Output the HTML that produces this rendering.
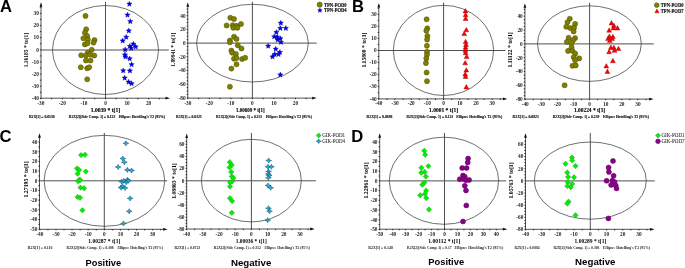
<!DOCTYPE html>
<html><head><meta charset="utf-8"><style>
html,body{margin:0;padding:0;background:#fff;}
body{width:685px;height:268px;overflow:hidden;font-family:"Liberation Sans", sans-serif;}
svg{display:block;will-change:transform;}
</style></head><body>
<svg width="685" height="268" viewBox="0 0 685 268">
<rect width="685" height="268" fill="#fff"/>
<line x1="41" y1="50" x2="168.8" y2="50" stroke="#505050" stroke-width="1"/>
<line x1="105.5" y1="2" x2="105.5" y2="98.2" stroke="#505050" stroke-width="1"/>
<ellipse cx="105.5" cy="50" rx="53" ry="44.5" fill="none" stroke="#404040" stroke-width="0.75"/>
<line x1="41" y1="98.2" x2="167" y2="98.2" stroke="#505050" stroke-width="1"/>
<line x1="41" y1="98.2" x2="41" y2="5.3" stroke="#505050" stroke-width="1"/>
<polygon points="170,98.2 165.5,96.8 165.5,99.6" fill="#111"/>
<polygon points="41,2.3 39.6,6.8 42.4,6.8" fill="#111"/>
<text x="40.85" y="104.6" font-size="5.3" font-family='"Liberation Serif", serif' font-weight="bold" fill="#1a1a1a" text-anchor="middle" >-30</text>
<text x="62.4" y="104.6" font-size="5.3" font-family='"Liberation Serif", serif' font-weight="bold" fill="#1a1a1a" text-anchor="middle" >-20</text>
<text x="83.95" y="104.6" font-size="5.3" font-family='"Liberation Serif", serif' font-weight="bold" fill="#1a1a1a" text-anchor="middle" >-10</text>
<text x="105.5" y="104.6" font-size="5.3" font-family='"Liberation Serif", serif' font-weight="bold" fill="#1a1a1a" text-anchor="middle" >0</text>
<text x="127.05" y="104.6" font-size="5.3" font-family='"Liberation Serif", serif' font-weight="bold" fill="#1a1a1a" text-anchor="middle" >10</text>
<text x="148.6" y="104.6" font-size="5.3" font-family='"Liberation Serif", serif' font-weight="bold" fill="#1a1a1a" text-anchor="middle" >20</text>
<line x1="40.85" y1="98" x2="40.85" y2="99.3" stroke="#1a1a1a" stroke-width="0.9"/>
<line x1="51.63" y1="98" x2="51.63" y2="99.3" stroke="#1a1a1a" stroke-width="0.9"/>
<line x1="62.4" y1="98" x2="62.4" y2="99.3" stroke="#1a1a1a" stroke-width="0.9"/>
<line x1="73.18" y1="98" x2="73.18" y2="99.3" stroke="#1a1a1a" stroke-width="0.9"/>
<line x1="83.95" y1="98" x2="83.95" y2="99.3" stroke="#1a1a1a" stroke-width="0.9"/>
<line x1="94.72" y1="98" x2="94.72" y2="99.3" stroke="#1a1a1a" stroke-width="0.9"/>
<line x1="105.5" y1="98" x2="105.5" y2="99.3" stroke="#1a1a1a" stroke-width="0.9"/>
<line x1="116.28" y1="98" x2="116.28" y2="99.3" stroke="#1a1a1a" stroke-width="0.9"/>
<line x1="127.05" y1="98" x2="127.05" y2="99.3" stroke="#1a1a1a" stroke-width="0.9"/>
<line x1="137.82" y1="98" x2="137.82" y2="99.3" stroke="#1a1a1a" stroke-width="0.9"/>
<line x1="148.6" y1="98" x2="148.6" y2="99.3" stroke="#1a1a1a" stroke-width="0.9"/>
<line x1="159.38" y1="98" x2="159.38" y2="99.3" stroke="#1a1a1a" stroke-width="0.9"/>
<text x="38.8" y="100.16" font-size="5.3" font-family='"Liberation Serif", serif' font-weight="bold" fill="#1a1a1a" text-anchor="end" >-40</text>
<text x="38.8" y="88.02" font-size="5.3" font-family='"Liberation Serif", serif' font-weight="bold" fill="#1a1a1a" text-anchor="end" >-30</text>
<text x="38.8" y="75.88" font-size="5.3" font-family='"Liberation Serif", serif' font-weight="bold" fill="#1a1a1a" text-anchor="end" >-20</text>
<text x="38.8" y="63.74" font-size="5.3" font-family='"Liberation Serif", serif' font-weight="bold" fill="#1a1a1a" text-anchor="end" >-10</text>
<text x="38.8" y="51.6" font-size="5.3" font-family='"Liberation Serif", serif' font-weight="bold" fill="#1a1a1a" text-anchor="end" >0</text>
<text x="38.8" y="39.46" font-size="5.3" font-family='"Liberation Serif", serif' font-weight="bold" fill="#1a1a1a" text-anchor="end" >10</text>
<text x="38.8" y="27.32" font-size="5.3" font-family='"Liberation Serif", serif' font-weight="bold" fill="#1a1a1a" text-anchor="end" >20</text>
<text x="38.8" y="15.18" font-size="5.3" font-family='"Liberation Serif", serif' font-weight="bold" fill="#1a1a1a" text-anchor="end" >30</text>
<line x1="39.9" y1="98.36" x2="41.2" y2="98.36" stroke="#1a1a1a" stroke-width="0.9"/>
<line x1="39.9" y1="92.29" x2="41.2" y2="92.29" stroke="#1a1a1a" stroke-width="0.9"/>
<line x1="39.9" y1="86.22" x2="41.2" y2="86.22" stroke="#1a1a1a" stroke-width="0.9"/>
<line x1="39.9" y1="80.15" x2="41.2" y2="80.15" stroke="#1a1a1a" stroke-width="0.9"/>
<line x1="39.9" y1="74.08" x2="41.2" y2="74.08" stroke="#1a1a1a" stroke-width="0.9"/>
<line x1="39.9" y1="68.01" x2="41.2" y2="68.01" stroke="#1a1a1a" stroke-width="0.9"/>
<line x1="39.9" y1="61.94" x2="41.2" y2="61.94" stroke="#1a1a1a" stroke-width="0.9"/>
<line x1="39.9" y1="55.87" x2="41.2" y2="55.87" stroke="#1a1a1a" stroke-width="0.9"/>
<line x1="39.9" y1="49.8" x2="41.2" y2="49.8" stroke="#1a1a1a" stroke-width="0.9"/>
<line x1="39.9" y1="43.73" x2="41.2" y2="43.73" stroke="#1a1a1a" stroke-width="0.9"/>
<line x1="39.9" y1="37.66" x2="41.2" y2="37.66" stroke="#1a1a1a" stroke-width="0.9"/>
<line x1="39.9" y1="31.59" x2="41.2" y2="31.59" stroke="#1a1a1a" stroke-width="0.9"/>
<line x1="39.9" y1="25.52" x2="41.2" y2="25.52" stroke="#1a1a1a" stroke-width="0.9"/>
<line x1="39.9" y1="19.45" x2="41.2" y2="19.45" stroke="#1a1a1a" stroke-width="0.9"/>
<line x1="39.9" y1="13.38" x2="41.2" y2="13.38" stroke="#1a1a1a" stroke-width="0.9"/>
<line x1="39.9" y1="7.31" x2="41.2" y2="7.31" stroke="#1a1a1a" stroke-width="0.9"/>
<text x="90.7" y="111.8" font-size="5.6" font-family='"Liberation Serif", serif' font-weight="bold" fill="#000" text-anchor="start" textLength="29.5" lengthAdjust="spacingAndGlyphs" stroke="#000" stroke-width="0.12">1.0039 * t[1]</text>
<text x="0" y="0" font-size="5.6" font-family='"Liberation Serif", serif' font-weight="bold" text-anchor="middle" textLength="34.4" lengthAdjust="spacingAndGlyphs" transform="translate(28.4 50.1) rotate(-90)">1.16185 * to[1]</text>
<text x="28.9" y="117.7" font-size="4.5" font-family='"Liberation Serif", serif' font-weight="bold" fill="#111" text-anchor="start" textLength="25.7" lengthAdjust="spacingAndGlyphs" stroke="#111" stroke-width="0.15">R2X[1] = 0.0530</text>
<text x="68.8" y="117.7" font-size="4.5" font-family='"Liberation Serif", serif' font-weight="bold" fill="#111" text-anchor="start" textLength="46.4" lengthAdjust="spacingAndGlyphs" stroke="#111" stroke-width="0.15">R2X[2](Side Comp. 1) = 0.123</text>
<text x="118.7" y="117.7" font-size="4.5" font-family='"Liberation Serif", serif' font-weight="bold" fill="#111" text-anchor="start" textLength="46.4" lengthAdjust="spacingAndGlyphs" stroke="#111" stroke-width="0.15">Ellipse: Hotelling's T2 (95%)</text>
<circle cx="85.5" cy="15.9" r="2.55" fill="#808000" stroke="#4d4d00" stroke-width="0.5"/>
<circle cx="86.2" cy="29.3" r="2.55" fill="#808000" stroke="#4d4d00" stroke-width="0.5"/>
<circle cx="84.9" cy="32.7" r="2.55" fill="#808000" stroke="#4d4d00" stroke-width="0.5"/>
<circle cx="87.2" cy="36" r="2.55" fill="#808000" stroke="#4d4d00" stroke-width="0.5"/>
<circle cx="83.4" cy="38.3" r="2.55" fill="#808000" stroke="#4d4d00" stroke-width="0.5"/>
<circle cx="87.9" cy="39.6" r="2.55" fill="#808000" stroke="#4d4d00" stroke-width="0.5"/>
<circle cx="94.5" cy="40.1" r="2.55" fill="#808000" stroke="#4d4d00" stroke-width="0.5"/>
<circle cx="93.5" cy="42.6" r="2.55" fill="#808000" stroke="#4d4d00" stroke-width="0.5"/>
<circle cx="84.9" cy="44.4" r="2.55" fill="#808000" stroke="#4d4d00" stroke-width="0.5"/>
<circle cx="87.5" cy="43.3" r="2.55" fill="#808000" stroke="#4d4d00" stroke-width="0.5"/>
<circle cx="91.7" cy="49.7" r="2.55" fill="#808000" stroke="#4d4d00" stroke-width="0.5"/>
<circle cx="87.7" cy="52.7" r="2.55" fill="#808000" stroke="#4d4d00" stroke-width="0.5"/>
<circle cx="81.2" cy="55.2" r="2.55" fill="#808000" stroke="#4d4d00" stroke-width="0.5"/>
<circle cx="85.9" cy="55.5" r="2.55" fill="#808000" stroke="#4d4d00" stroke-width="0.5"/>
<circle cx="90.2" cy="54.6" r="2.55" fill="#808000" stroke="#4d4d00" stroke-width="0.5"/>
<circle cx="94.3" cy="55.5" r="2.55" fill="#808000" stroke="#4d4d00" stroke-width="0.5"/>
<circle cx="85.9" cy="60.5" r="2.55" fill="#808000" stroke="#4d4d00" stroke-width="0.5"/>
<circle cx="90.5" cy="60.5" r="2.55" fill="#808000" stroke="#4d4d00" stroke-width="0.5"/>
<circle cx="80.8" cy="67.3" r="2.55" fill="#808000" stroke="#4d4d00" stroke-width="0.5"/>
<circle cx="87.2" cy="68.3" r="2.55" fill="#808000" stroke="#4d4d00" stroke-width="0.5"/>
<circle cx="89.2" cy="67.3" r="2.55" fill="#808000" stroke="#4d4d00" stroke-width="0.5"/>
<circle cx="87.2" cy="79.3" r="2.55" fill="#808000" stroke="#4d4d00" stroke-width="0.5"/>
<polygon points="129.4,1.3 130.13,3.04 132.02,3.2 130.59,4.44 131.02,6.27 129.4,5.3 127.78,6.27 128.21,4.44 126.78,3.2 128.67,3.04" fill="#0000ff" stroke="#00007a" stroke-width="0.4"/>
<polygon points="127.5,12.2 128.23,13.94 130.12,14.1 128.69,15.34 129.12,17.17 127.5,16.2 125.88,17.17 126.31,15.34 124.88,14.1 126.77,13.94" fill="#0000ff" stroke="#00007a" stroke-width="0.4"/>
<polygon points="130.3,18.7 131.03,20.44 132.92,20.6 131.49,21.84 131.92,23.67 130.3,22.7 128.68,23.67 129.11,21.84 127.68,20.6 129.57,20.44" fill="#0000ff" stroke="#00007a" stroke-width="0.4"/>
<polygon points="128.8,28.1 129.53,29.84 131.42,30 129.99,31.24 130.42,33.07 128.8,32.1 127.18,33.07 127.61,31.24 126.18,30 128.07,29.84" fill="#0000ff" stroke="#00007a" stroke-width="0.4"/>
<polygon points="126.2,34.4 126.93,36.14 128.82,36.3 127.39,37.54 127.82,39.37 126.2,38.4 124.58,39.37 125.01,37.54 123.58,36.3 125.47,36.14" fill="#0000ff" stroke="#00007a" stroke-width="0.4"/>
<polygon points="122.7,38.1 123.43,39.84 125.32,40 123.89,41.24 124.32,43.07 122.7,42.1 121.08,43.07 121.51,41.24 120.08,40 121.97,39.84" fill="#0000ff" stroke="#00007a" stroke-width="0.4"/>
<polygon points="133.3,41.3 134.03,43.04 135.92,43.2 134.49,44.44 134.92,46.27 133.3,45.3 131.68,46.27 132.11,44.44 130.68,43.2 132.57,43.04" fill="#0000ff" stroke="#00007a" stroke-width="0.4"/>
<polygon points="129.8,43.5 130.53,45.24 132.42,45.4 130.99,46.64 131.42,48.47 129.8,47.5 128.18,48.47 128.61,46.64 127.18,45.4 129.07,45.24" fill="#0000ff" stroke="#00007a" stroke-width="0.4"/>
<polygon points="135.7,44.1 136.43,45.84 138.32,46 136.89,47.24 137.32,49.07 135.7,48.1 134.08,49.07 134.51,47.24 133.08,46 134.97,45.84" fill="#0000ff" stroke="#00007a" stroke-width="0.4"/>
<polygon points="131.3,45.6 132.03,47.34 133.92,47.5 132.49,48.74 132.92,50.57 131.3,49.6 129.68,50.57 130.11,48.74 128.68,47.5 130.57,47.34" fill="#0000ff" stroke="#00007a" stroke-width="0.4"/>
<polygon points="125.2,46.9 125.93,48.64 127.82,48.8 126.39,50.04 126.82,51.87 125.2,50.9 123.58,51.87 124.01,50.04 122.58,48.8 124.47,48.64" fill="#0000ff" stroke="#00007a" stroke-width="0.4"/>
<polygon points="125,52 125.73,53.74 127.62,53.9 126.19,55.14 126.62,56.97 125,56 123.38,56.97 123.81,55.14 122.38,53.9 124.27,53.74" fill="#0000ff" stroke="#00007a" stroke-width="0.4"/>
<polygon points="125.4,54.1 126.13,55.84 128.02,56 126.59,57.24 127.02,59.07 125.4,58.1 123.78,59.07 124.21,57.24 122.78,56 124.67,55.84" fill="#0000ff" stroke="#00007a" stroke-width="0.4"/>
<polygon points="129.7,55.9 130.43,57.64 132.32,57.8 130.89,59.04 131.32,60.87 129.7,59.9 128.08,60.87 128.51,59.04 127.08,57.8 128.97,57.64" fill="#0000ff" stroke="#00007a" stroke-width="0.4"/>
<polygon points="131.6,61.8 132.33,63.54 134.22,63.7 132.79,64.94 133.22,66.77 131.6,65.8 129.98,66.77 130.41,64.94 128.98,63.7 130.87,63.54" fill="#0000ff" stroke="#00007a" stroke-width="0.4"/>
<polygon points="123.2,67.9 123.93,69.64 125.82,69.8 124.39,71.04 124.82,72.87 123.2,71.9 121.58,72.87 122.01,71.04 120.58,69.8 122.47,69.64" fill="#0000ff" stroke="#00007a" stroke-width="0.4"/>
<polygon points="129.9,68.1 130.63,69.84 132.52,70 131.09,71.24 131.52,73.07 129.9,72.1 128.28,73.07 128.71,71.24 127.28,70 129.17,69.84" fill="#0000ff" stroke="#00007a" stroke-width="0.4"/>
<polygon points="124.7,75.2 125.43,76.94 127.32,77.1 125.89,78.34 126.32,80.17 124.7,79.2 123.08,80.17 123.51,78.34 122.08,77.1 123.97,76.94" fill="#0000ff" stroke="#00007a" stroke-width="0.4"/>
<polygon points="128.6,79.3 129.33,81.04 131.22,81.2 129.79,82.44 130.22,84.27 128.6,83.3 126.98,84.27 127.41,82.44 125.98,81.2 127.87,81.04" fill="#0000ff" stroke="#00007a" stroke-width="0.4"/>
<polygon points="131.6,80.8 132.33,82.54 134.22,82.7 132.79,83.94 133.22,85.77 131.6,84.8 129.98,85.77 130.41,83.94 128.98,82.7 130.87,82.54" fill="#0000ff" stroke="#00007a" stroke-width="0.4"/>
<line x1="187.8" y1="43.1" x2="316.7" y2="43.1" stroke="#505050" stroke-width="1"/>
<line x1="252.4" y1="1.8" x2="252.4" y2="98.1" stroke="#505050" stroke-width="1"/>
<ellipse cx="252.45" cy="43.15" rx="55.85" ry="38.85" fill="none" stroke="#404040" stroke-width="0.75"/>
<line x1="187.8" y1="98.1" x2="313.7" y2="98.1" stroke="#505050" stroke-width="1"/>
<line x1="187.8" y1="98.1" x2="187.8" y2="5.2" stroke="#505050" stroke-width="1"/>
<polygon points="316.7,98.1 312.2,96.7 312.2,99.5" fill="#111"/>
<polygon points="187.8,2.2 186.4,6.7 189.2,6.7" fill="#111"/>
<text x="187.78" y="104.7" font-size="5.3" font-family='"Liberation Serif", serif' font-weight="bold" fill="#1a1a1a" text-anchor="middle" >-30</text>
<text x="209.32" y="104.7" font-size="5.3" font-family='"Liberation Serif", serif' font-weight="bold" fill="#1a1a1a" text-anchor="middle" >-20</text>
<text x="230.86" y="104.7" font-size="5.3" font-family='"Liberation Serif", serif' font-weight="bold" fill="#1a1a1a" text-anchor="middle" >-10</text>
<text x="252.4" y="104.7" font-size="5.3" font-family='"Liberation Serif", serif' font-weight="bold" fill="#1a1a1a" text-anchor="middle" >0</text>
<text x="273.94" y="104.7" font-size="5.3" font-family='"Liberation Serif", serif' font-weight="bold" fill="#1a1a1a" text-anchor="middle" >10</text>
<text x="295.48" y="104.7" font-size="5.3" font-family='"Liberation Serif", serif' font-weight="bold" fill="#1a1a1a" text-anchor="middle" >20</text>
<line x1="187.78" y1="97.9" x2="187.78" y2="99.2" stroke="#1a1a1a" stroke-width="0.9"/>
<line x1="198.55" y1="97.9" x2="198.55" y2="99.2" stroke="#1a1a1a" stroke-width="0.9"/>
<line x1="209.32" y1="97.9" x2="209.32" y2="99.2" stroke="#1a1a1a" stroke-width="0.9"/>
<line x1="220.09" y1="97.9" x2="220.09" y2="99.2" stroke="#1a1a1a" stroke-width="0.9"/>
<line x1="230.86" y1="97.9" x2="230.86" y2="99.2" stroke="#1a1a1a" stroke-width="0.9"/>
<line x1="241.63" y1="97.9" x2="241.63" y2="99.2" stroke="#1a1a1a" stroke-width="0.9"/>
<line x1="252.4" y1="97.9" x2="252.4" y2="99.2" stroke="#1a1a1a" stroke-width="0.9"/>
<line x1="263.17" y1="97.9" x2="263.17" y2="99.2" stroke="#1a1a1a" stroke-width="0.9"/>
<line x1="273.94" y1="97.9" x2="273.94" y2="99.2" stroke="#1a1a1a" stroke-width="0.9"/>
<line x1="284.71" y1="97.9" x2="284.71" y2="99.2" stroke="#1a1a1a" stroke-width="0.9"/>
<line x1="295.48" y1="97.9" x2="295.48" y2="99.2" stroke="#1a1a1a" stroke-width="0.9"/>
<line x1="306.25" y1="97.9" x2="306.25" y2="99.2" stroke="#1a1a1a" stroke-width="0.9"/>
<text x="185.6" y="99.7" font-size="5.3" font-family='"Liberation Serif", serif' font-weight="bold" fill="#1a1a1a" text-anchor="end" >-80</text>
<text x="185.6" y="86" font-size="5.3" font-family='"Liberation Serif", serif' font-weight="bold" fill="#1a1a1a" text-anchor="end" >-60</text>
<text x="185.6" y="72.3" font-size="5.3" font-family='"Liberation Serif", serif' font-weight="bold" fill="#1a1a1a" text-anchor="end" >-40</text>
<text x="185.6" y="58.6" font-size="5.3" font-family='"Liberation Serif", serif' font-weight="bold" fill="#1a1a1a" text-anchor="end" >-20</text>
<text x="185.6" y="44.9" font-size="5.3" font-family='"Liberation Serif", serif' font-weight="bold" fill="#1a1a1a" text-anchor="end" >0</text>
<text x="185.6" y="31.2" font-size="5.3" font-family='"Liberation Serif", serif' font-weight="bold" fill="#1a1a1a" text-anchor="end" >20</text>
<text x="185.6" y="17.5" font-size="5.3" font-family='"Liberation Serif", serif' font-weight="bold" fill="#1a1a1a" text-anchor="end" >40</text>
<line x1="186.7" y1="97.9" x2="188" y2="97.9" stroke="#1a1a1a" stroke-width="0.9"/>
<line x1="186.7" y1="94.48" x2="188" y2="94.48" stroke="#1a1a1a" stroke-width="0.9"/>
<line x1="186.7" y1="91.05" x2="188" y2="91.05" stroke="#1a1a1a" stroke-width="0.9"/>
<line x1="186.7" y1="87.62" x2="188" y2="87.62" stroke="#1a1a1a" stroke-width="0.9"/>
<line x1="186.7" y1="84.2" x2="188" y2="84.2" stroke="#1a1a1a" stroke-width="0.9"/>
<line x1="186.7" y1="80.78" x2="188" y2="80.78" stroke="#1a1a1a" stroke-width="0.9"/>
<line x1="186.7" y1="77.35" x2="188" y2="77.35" stroke="#1a1a1a" stroke-width="0.9"/>
<line x1="186.7" y1="73.93" x2="188" y2="73.93" stroke="#1a1a1a" stroke-width="0.9"/>
<line x1="186.7" y1="70.5" x2="188" y2="70.5" stroke="#1a1a1a" stroke-width="0.9"/>
<line x1="186.7" y1="67.08" x2="188" y2="67.08" stroke="#1a1a1a" stroke-width="0.9"/>
<line x1="186.7" y1="63.65" x2="188" y2="63.65" stroke="#1a1a1a" stroke-width="0.9"/>
<line x1="186.7" y1="60.23" x2="188" y2="60.23" stroke="#1a1a1a" stroke-width="0.9"/>
<line x1="186.7" y1="56.8" x2="188" y2="56.8" stroke="#1a1a1a" stroke-width="0.9"/>
<line x1="186.7" y1="53.38" x2="188" y2="53.38" stroke="#1a1a1a" stroke-width="0.9"/>
<line x1="186.7" y1="49.95" x2="188" y2="49.95" stroke="#1a1a1a" stroke-width="0.9"/>
<line x1="186.7" y1="46.52" x2="188" y2="46.52" stroke="#1a1a1a" stroke-width="0.9"/>
<line x1="186.7" y1="43.1" x2="188" y2="43.1" stroke="#1a1a1a" stroke-width="0.9"/>
<line x1="186.7" y1="39.68" x2="188" y2="39.68" stroke="#1a1a1a" stroke-width="0.9"/>
<line x1="186.7" y1="36.25" x2="188" y2="36.25" stroke="#1a1a1a" stroke-width="0.9"/>
<line x1="186.7" y1="32.83" x2="188" y2="32.83" stroke="#1a1a1a" stroke-width="0.9"/>
<line x1="186.7" y1="29.4" x2="188" y2="29.4" stroke="#1a1a1a" stroke-width="0.9"/>
<line x1="186.7" y1="25.98" x2="188" y2="25.98" stroke="#1a1a1a" stroke-width="0.9"/>
<line x1="186.7" y1="22.55" x2="188" y2="22.55" stroke="#1a1a1a" stroke-width="0.9"/>
<line x1="186.7" y1="19.12" x2="188" y2="19.12" stroke="#1a1a1a" stroke-width="0.9"/>
<line x1="186.7" y1="15.7" x2="188" y2="15.7" stroke="#1a1a1a" stroke-width="0.9"/>
<line x1="186.7" y1="12.27" x2="188" y2="12.27" stroke="#1a1a1a" stroke-width="0.9"/>
<line x1="186.7" y1="8.85" x2="188" y2="8.85" stroke="#1a1a1a" stroke-width="0.9"/>
<text x="236.1" y="111.8" font-size="5.6" font-family='"Liberation Serif", serif' font-weight="bold" fill="#000" text-anchor="start" textLength="28.5" lengthAdjust="spacingAndGlyphs" stroke="#000" stroke-width="0.12">1.00609 * t[1]</text>
<text x="0" y="0" font-size="5.6" font-family='"Liberation Serif", serif' font-weight="bold" text-anchor="middle" textLength="34" lengthAdjust="spacingAndGlyphs" transform="translate(175.4 49.7) rotate(-90)">1.89941 * to[1]</text>
<text x="176.1" y="117.5" font-size="4.5" font-family='"Liberation Serif", serif' font-weight="bold" fill="#111" text-anchor="start" textLength="25.6" lengthAdjust="spacingAndGlyphs" stroke="#111" stroke-width="0.15">R2X[1] = 0.0325</text>
<text x="216" y="117.5" font-size="4.5" font-family='"Liberation Serif", serif' font-weight="bold" fill="#111" text-anchor="start" textLength="46" lengthAdjust="spacingAndGlyphs" stroke="#111" stroke-width="0.15">R2X[2](Side Comp. 1) = 0.253</text>
<text x="265.9" y="117.5" font-size="4.5" font-family='"Liberation Serif", serif' font-weight="bold" fill="#111" text-anchor="start" textLength="46" lengthAdjust="spacingAndGlyphs" stroke="#111" stroke-width="0.15">Ellipse: Hotelling's T2 (95%)</text>
<circle cx="230.3" cy="17.7" r="2.55" fill="#808000" stroke="#4d4d00" stroke-width="0.5"/>
<circle cx="234" cy="19" r="2.55" fill="#808000" stroke="#4d4d00" stroke-width="0.5"/>
<circle cx="226.6" cy="25.5" r="2.55" fill="#808000" stroke="#4d4d00" stroke-width="0.5"/>
<circle cx="232.7" cy="25.2" r="2.55" fill="#808000" stroke="#4d4d00" stroke-width="0.5"/>
<circle cx="236.5" cy="25.9" r="2.55" fill="#808000" stroke="#4d4d00" stroke-width="0.5"/>
<circle cx="241" cy="24" r="2.55" fill="#808000" stroke="#4d4d00" stroke-width="0.5"/>
<circle cx="233.3" cy="27.8" r="2.55" fill="#808000" stroke="#4d4d00" stroke-width="0.5"/>
<circle cx="237.4" cy="27.8" r="2.55" fill="#808000" stroke="#4d4d00" stroke-width="0.5"/>
<circle cx="234" cy="36.7" r="2.55" fill="#808000" stroke="#4d4d00" stroke-width="0.5"/>
<circle cx="236.5" cy="39" r="2.55" fill="#808000" stroke="#4d4d00" stroke-width="0.5"/>
<circle cx="229.9" cy="40.5" r="2.55" fill="#808000" stroke="#4d4d00" stroke-width="0.5"/>
<circle cx="229.9" cy="42.3" r="2.55" fill="#808000" stroke="#4d4d00" stroke-width="0.5"/>
<circle cx="237.8" cy="45.3" r="2.55" fill="#808000" stroke="#4d4d00" stroke-width="0.5"/>
<circle cx="241.5" cy="48.5" r="2.55" fill="#808000" stroke="#4d4d00" stroke-width="0.5"/>
<circle cx="231.4" cy="50.6" r="2.55" fill="#808000" stroke="#4d4d00" stroke-width="0.5"/>
<circle cx="232.2" cy="52.7" r="2.55" fill="#808000" stroke="#4d4d00" stroke-width="0.5"/>
<circle cx="235.9" cy="54" r="2.55" fill="#808000" stroke="#4d4d00" stroke-width="0.5"/>
<circle cx="234" cy="58.7" r="2.55" fill="#808000" stroke="#4d4d00" stroke-width="0.5"/>
<circle cx="236.5" cy="58.1" r="2.55" fill="#808000" stroke="#4d4d00" stroke-width="0.5"/>
<circle cx="242.1" cy="59" r="2.55" fill="#808000" stroke="#4d4d00" stroke-width="0.5"/>
<circle cx="245.2" cy="57.7" r="2.55" fill="#808000" stroke="#4d4d00" stroke-width="0.5"/>
<circle cx="236.5" cy="64.3" r="2.55" fill="#808000" stroke="#4d4d00" stroke-width="0.5"/>
<circle cx="231.4" cy="68.6" r="2.55" fill="#808000" stroke="#4d4d00" stroke-width="0.5"/>
<circle cx="229.9" cy="86.7" r="2.55" fill="#808000" stroke="#4d4d00" stroke-width="0.5"/>
<polygon points="280.8,20.3 281.53,22.04 283.42,22.2 281.99,23.44 282.42,25.27 280.8,24.3 279.18,25.27 279.61,23.44 278.18,22.2 280.07,22.04" fill="#0000ff" stroke="#00007a" stroke-width="0.4"/>
<polygon points="280.3,25.6 281.03,27.34 282.92,27.5 281.49,28.74 281.92,30.57 280.3,29.6 278.68,30.57 279.11,28.74 277.68,27.5 279.57,27.34" fill="#0000ff" stroke="#00007a" stroke-width="0.4"/>
<polygon points="285.8,25.6 286.53,27.34 288.42,27.5 286.99,28.74 287.42,30.57 285.8,29.6 284.18,30.57 284.61,28.74 283.18,27.5 285.07,27.34" fill="#0000ff" stroke="#00007a" stroke-width="0.4"/>
<polygon points="276.4,29.6 277.13,31.34 279.02,31.5 277.59,32.74 278.02,34.57 276.4,33.6 274.78,34.57 275.21,32.74 273.78,31.5 275.67,31.34" fill="#0000ff" stroke="#00007a" stroke-width="0.4"/>
<polygon points="274.2,33.9 274.93,35.64 276.82,35.8 275.39,37.04 275.82,38.87 274.2,37.9 272.58,38.87 273.01,37.04 271.58,35.8 273.47,35.64" fill="#0000ff" stroke="#00007a" stroke-width="0.4"/>
<polygon points="277.2,34.2 277.93,35.94 279.82,36.1 278.39,37.34 278.82,39.17 277.2,38.2 275.58,39.17 276.01,37.34 274.58,36.1 276.47,35.94" fill="#0000ff" stroke="#00007a" stroke-width="0.4"/>
<polygon points="280.4,35.8 281.13,37.54 283.02,37.7 281.59,38.94 282.02,40.77 280.4,39.8 278.78,40.77 279.21,38.94 277.78,37.7 279.67,37.54" fill="#0000ff" stroke="#00007a" stroke-width="0.4"/>
<polygon points="277.6,37 278.33,38.74 280.22,38.9 278.79,40.14 279.22,41.97 277.6,41 275.98,41.97 276.41,40.14 274.98,38.9 276.87,38.74" fill="#0000ff" stroke="#00007a" stroke-width="0.4"/>
<polygon points="281,39.5 281.73,41.24 283.62,41.4 282.19,42.64 282.62,44.47 281,43.5 279.38,44.47 279.81,42.64 278.38,41.4 280.27,41.24" fill="#0000ff" stroke="#00007a" stroke-width="0.4"/>
<polygon points="268.2,43.3 268.93,45.04 270.82,45.2 269.39,46.44 269.82,48.27 268.2,47.3 266.58,48.27 267.01,46.44 265.58,45.2 267.47,45.04" fill="#0000ff" stroke="#00007a" stroke-width="0.4"/>
<polygon points="275.7,46.3 276.43,48.04 278.32,48.2 276.89,49.44 277.32,51.27 275.7,50.3 274.08,51.27 274.51,49.44 273.08,48.2 274.97,48.04" fill="#0000ff" stroke="#00007a" stroke-width="0.4"/>
<polygon points="279.9,49.6 280.63,51.34 282.52,51.5 281.09,52.74 281.52,54.57 279.9,53.6 278.28,54.57 278.71,52.74 277.28,51.5 279.17,51.34" fill="#0000ff" stroke="#00007a" stroke-width="0.4"/>
<polygon points="274.7,51.6 275.43,53.34 277.32,53.5 275.89,54.74 276.32,56.57 274.7,55.6 273.08,56.57 273.51,54.74 272.08,53.5 273.97,53.34" fill="#0000ff" stroke="#00007a" stroke-width="0.4"/>
<polygon points="278.5,51.6 279.23,53.34 281.12,53.5 279.69,54.74 280.12,56.57 278.5,55.6 276.88,56.57 277.31,54.74 275.88,53.5 277.77,53.34" fill="#0000ff" stroke="#00007a" stroke-width="0.4"/>
<polygon points="272.5,54 273.23,55.74 275.12,55.9 273.69,57.14 274.12,58.97 272.5,58 270.88,58.97 271.31,57.14 269.88,55.9 271.77,55.74" fill="#0000ff" stroke="#00007a" stroke-width="0.4"/>
<polygon points="280.3,72.1 281.03,73.84 282.92,74 281.49,75.24 281.92,77.07 280.3,76.1 278.68,77.07 279.11,75.24 277.68,74 279.57,73.84" fill="#0000ff" stroke="#00007a" stroke-width="0.4"/>
<line x1="378.8" y1="50.5" x2="505.4" y2="50.5" stroke="#505050" stroke-width="1"/>
<line x1="443.6" y1="2.6" x2="443.6" y2="98.9" stroke="#505050" stroke-width="1"/>
<ellipse cx="443.45" cy="50.4" rx="50.1" ry="45.1" fill="none" stroke="#404040" stroke-width="0.75"/>
<line x1="378.8" y1="98.9" x2="504.4" y2="98.9" stroke="#505050" stroke-width="1"/>
<line x1="378.8" y1="98.9" x2="378.8" y2="6" stroke="#505050" stroke-width="1"/>
<polygon points="507.4,98.9 502.9,97.5 502.9,100.3" fill="#111"/>
<polygon points="378.8,3 377.4,7.5 380.2,7.5" fill="#111"/>
<text x="378.8" y="105.3" font-size="5.3" font-family='"Liberation Serif", serif' font-weight="bold" fill="#1a1a1a" text-anchor="middle" >-40</text>
<text x="395" y="105.3" font-size="5.3" font-family='"Liberation Serif", serif' font-weight="bold" fill="#1a1a1a" text-anchor="middle" >-30</text>
<text x="411.2" y="105.3" font-size="5.3" font-family='"Liberation Serif", serif' font-weight="bold" fill="#1a1a1a" text-anchor="middle" >-20</text>
<text x="427.4" y="105.3" font-size="5.3" font-family='"Liberation Serif", serif' font-weight="bold" fill="#1a1a1a" text-anchor="middle" >-10</text>
<text x="443.6" y="105.3" font-size="5.3" font-family='"Liberation Serif", serif' font-weight="bold" fill="#1a1a1a" text-anchor="middle" >0</text>
<text x="459.8" y="105.3" font-size="5.3" font-family='"Liberation Serif", serif' font-weight="bold" fill="#1a1a1a" text-anchor="middle" >10</text>
<text x="476" y="105.3" font-size="5.3" font-family='"Liberation Serif", serif' font-weight="bold" fill="#1a1a1a" text-anchor="middle" >20</text>
<text x="492.2" y="105.3" font-size="5.3" font-family='"Liberation Serif", serif' font-weight="bold" fill="#1a1a1a" text-anchor="middle" >30</text>
<line x1="378.8" y1="98.7" x2="378.8" y2="100" stroke="#1a1a1a" stroke-width="0.9"/>
<line x1="386.9" y1="98.7" x2="386.9" y2="100" stroke="#1a1a1a" stroke-width="0.9"/>
<line x1="395" y1="98.7" x2="395" y2="100" stroke="#1a1a1a" stroke-width="0.9"/>
<line x1="403.1" y1="98.7" x2="403.1" y2="100" stroke="#1a1a1a" stroke-width="0.9"/>
<line x1="411.2" y1="98.7" x2="411.2" y2="100" stroke="#1a1a1a" stroke-width="0.9"/>
<line x1="419.3" y1="98.7" x2="419.3" y2="100" stroke="#1a1a1a" stroke-width="0.9"/>
<line x1="427.4" y1="98.7" x2="427.4" y2="100" stroke="#1a1a1a" stroke-width="0.9"/>
<line x1="435.5" y1="98.7" x2="435.5" y2="100" stroke="#1a1a1a" stroke-width="0.9"/>
<line x1="443.6" y1="98.7" x2="443.6" y2="100" stroke="#1a1a1a" stroke-width="0.9"/>
<line x1="451.7" y1="98.7" x2="451.7" y2="100" stroke="#1a1a1a" stroke-width="0.9"/>
<line x1="459.8" y1="98.7" x2="459.8" y2="100" stroke="#1a1a1a" stroke-width="0.9"/>
<line x1="467.9" y1="98.7" x2="467.9" y2="100" stroke="#1a1a1a" stroke-width="0.9"/>
<line x1="476" y1="98.7" x2="476" y2="100" stroke="#1a1a1a" stroke-width="0.9"/>
<line x1="484.1" y1="98.7" x2="484.1" y2="100" stroke="#1a1a1a" stroke-width="0.9"/>
<line x1="492.2" y1="98.7" x2="492.2" y2="100" stroke="#1a1a1a" stroke-width="0.9"/>
<line x1="500.3" y1="98.7" x2="500.3" y2="100" stroke="#1a1a1a" stroke-width="0.9"/>
<text x="376.6" y="100.5" font-size="5.3" font-family='"Liberation Serif", serif' font-weight="bold" fill="#1a1a1a" text-anchor="end" >-40</text>
<text x="376.6" y="88.45" font-size="5.3" font-family='"Liberation Serif", serif' font-weight="bold" fill="#1a1a1a" text-anchor="end" >-30</text>
<text x="376.6" y="76.4" font-size="5.3" font-family='"Liberation Serif", serif' font-weight="bold" fill="#1a1a1a" text-anchor="end" >-20</text>
<text x="376.6" y="64.35" font-size="5.3" font-family='"Liberation Serif", serif' font-weight="bold" fill="#1a1a1a" text-anchor="end" >-10</text>
<text x="376.6" y="52.3" font-size="5.3" font-family='"Liberation Serif", serif' font-weight="bold" fill="#1a1a1a" text-anchor="end" >0</text>
<text x="376.6" y="40.25" font-size="5.3" font-family='"Liberation Serif", serif' font-weight="bold" fill="#1a1a1a" text-anchor="end" >10</text>
<text x="376.6" y="28.2" font-size="5.3" font-family='"Liberation Serif", serif' font-weight="bold" fill="#1a1a1a" text-anchor="end" >20</text>
<text x="376.6" y="16.15" font-size="5.3" font-family='"Liberation Serif", serif' font-weight="bold" fill="#1a1a1a" text-anchor="end" >30</text>
<line x1="377.7" y1="98.7" x2="379" y2="98.7" stroke="#1a1a1a" stroke-width="0.9"/>
<line x1="377.7" y1="92.68" x2="379" y2="92.68" stroke="#1a1a1a" stroke-width="0.9"/>
<line x1="377.7" y1="86.65" x2="379" y2="86.65" stroke="#1a1a1a" stroke-width="0.9"/>
<line x1="377.7" y1="80.62" x2="379" y2="80.62" stroke="#1a1a1a" stroke-width="0.9"/>
<line x1="377.7" y1="74.6" x2="379" y2="74.6" stroke="#1a1a1a" stroke-width="0.9"/>
<line x1="377.7" y1="68.58" x2="379" y2="68.58" stroke="#1a1a1a" stroke-width="0.9"/>
<line x1="377.7" y1="62.55" x2="379" y2="62.55" stroke="#1a1a1a" stroke-width="0.9"/>
<line x1="377.7" y1="56.52" x2="379" y2="56.52" stroke="#1a1a1a" stroke-width="0.9"/>
<line x1="377.7" y1="50.5" x2="379" y2="50.5" stroke="#1a1a1a" stroke-width="0.9"/>
<line x1="377.7" y1="44.48" x2="379" y2="44.48" stroke="#1a1a1a" stroke-width="0.9"/>
<line x1="377.7" y1="38.45" x2="379" y2="38.45" stroke="#1a1a1a" stroke-width="0.9"/>
<line x1="377.7" y1="32.42" x2="379" y2="32.42" stroke="#1a1a1a" stroke-width="0.9"/>
<line x1="377.7" y1="26.4" x2="379" y2="26.4" stroke="#1a1a1a" stroke-width="0.9"/>
<line x1="377.7" y1="20.38" x2="379" y2="20.38" stroke="#1a1a1a" stroke-width="0.9"/>
<line x1="377.7" y1="14.35" x2="379" y2="14.35" stroke="#1a1a1a" stroke-width="0.9"/>
<line x1="377.7" y1="8.32" x2="379" y2="8.32" stroke="#1a1a1a" stroke-width="0.9"/>
<text x="429" y="112.2" font-size="5.6" font-family='"Liberation Serif", serif' font-weight="bold" fill="#000" text-anchor="start" textLength="29.1" lengthAdjust="spacingAndGlyphs" stroke="#000" stroke-width="0.12">1.0001 * t[1]</text>
<text x="0" y="0" font-size="5.6" font-family='"Liberation Serif", serif' font-weight="bold" text-anchor="middle" textLength="35" lengthAdjust="spacingAndGlyphs" transform="translate(366 50.1) rotate(-90)">1.15808 * to[1]</text>
<text x="366.6" y="118" font-size="4.5" font-family='"Liberation Serif", serif' font-weight="bold" fill="#111" text-anchor="start" textLength="25.8" lengthAdjust="spacingAndGlyphs" stroke="#111" stroke-width="0.15">R2X[1] = 0.0868</text>
<text x="406.4" y="118" font-size="4.5" font-family='"Liberation Serif", serif' font-weight="bold" fill="#111" text-anchor="start" textLength="46.7" lengthAdjust="spacingAndGlyphs" stroke="#111" stroke-width="0.15">R2X[2](Side Comp. 1) = 0.123</text>
<text x="456.3" y="118" font-size="4.5" font-family='"Liberation Serif", serif' font-weight="bold" fill="#111" text-anchor="start" textLength="46" lengthAdjust="spacingAndGlyphs" stroke="#111" stroke-width="0.15">Ellipse: Hotelling's T2 (95%)</text>
<circle cx="426.6" cy="19.3" r="2.55" fill="#808000" stroke="#4d4d00" stroke-width="0.5"/>
<circle cx="427.3" cy="28.4" r="2.55" fill="#808000" stroke="#4d4d00" stroke-width="0.5"/>
<circle cx="426.3" cy="30.8" r="2.55" fill="#808000" stroke="#4d4d00" stroke-width="0.5"/>
<circle cx="427.4" cy="36.1" r="2.55" fill="#808000" stroke="#4d4d00" stroke-width="0.5"/>
<circle cx="427.1" cy="39.6" r="2.55" fill="#808000" stroke="#4d4d00" stroke-width="0.5"/>
<circle cx="426.9" cy="45.8" r="2.55" fill="#808000" stroke="#4d4d00" stroke-width="0.5"/>
<circle cx="427" cy="51.8" r="2.55" fill="#808000" stroke="#4d4d00" stroke-width="0.5"/>
<circle cx="427" cy="54.5" r="2.55" fill="#808000" stroke="#4d4d00" stroke-width="0.5"/>
<circle cx="426.3" cy="58.4" r="2.55" fill="#808000" stroke="#4d4d00" stroke-width="0.5"/>
<circle cx="425.9" cy="63.1" r="2.55" fill="#808000" stroke="#4d4d00" stroke-width="0.5"/>
<circle cx="426.6" cy="72.5" r="2.55" fill="#808000" stroke="#4d4d00" stroke-width="0.5"/>
<circle cx="427" cy="81.2" r="2.55" fill="#808000" stroke="#4d4d00" stroke-width="0.5"/>
<polygon points="465.4,8.5 467.85,12.9 462.95,12.9" fill="#ff0000" stroke="#a00000" stroke-width="0.4"/>
<polygon points="465.6,12.4 468.05,16.8 463.15,16.8" fill="#ff0000" stroke="#a00000" stroke-width="0.4"/>
<polygon points="465.6,16.1 468.05,20.5 463.15,20.5" fill="#ff0000" stroke="#a00000" stroke-width="0.4"/>
<polygon points="466.3,27.4 468.75,31.8 463.85,31.8" fill="#ff0000" stroke="#a00000" stroke-width="0.4"/>
<polygon points="464.2,31.2 466.65,35.6 461.75,35.6" fill="#ff0000" stroke="#a00000" stroke-width="0.4"/>
<polygon points="465.6,39.2 468.05,43.6 463.15,43.6" fill="#ff0000" stroke="#a00000" stroke-width="0.4"/>
<polygon points="466,42.1 468.45,46.5 463.55,46.5" fill="#ff0000" stroke="#a00000" stroke-width="0.4"/>
<polygon points="465.6,44.8 468.05,49.2 463.15,49.2" fill="#ff0000" stroke="#a00000" stroke-width="0.4"/>
<polygon points="465.4,47.9 467.85,52.3 462.95,52.3" fill="#ff0000" stroke="#a00000" stroke-width="0.4"/>
<polygon points="465.6,50.4 468.05,54.8 463.15,54.8" fill="#ff0000" stroke="#a00000" stroke-width="0.4"/>
<polygon points="466.6,54.2 469.05,58.6 464.15,58.6" fill="#ff0000" stroke="#a00000" stroke-width="0.4"/>
<polygon points="465.2,60.4 467.65,64.8 462.75,64.8" fill="#ff0000" stroke="#a00000" stroke-width="0.4"/>
<polygon points="466.3,67.7 468.75,72.1 463.85,72.1" fill="#ff0000" stroke="#a00000" stroke-width="0.4"/>
<polygon points="465.2,71.7 467.65,76.1 462.75,76.1" fill="#ff0000" stroke="#a00000" stroke-width="0.4"/>
<polygon points="465.6,74.1 468.05,78.5 463.15,78.5" fill="#ff0000" stroke="#a00000" stroke-width="0.4"/>
<polygon points="466.3,84.5 468.75,88.9 463.85,88.9" fill="#ff0000" stroke="#a00000" stroke-width="0.4"/>
<line x1="524.9" y1="43.9" x2="653.8" y2="43.9" stroke="#505050" stroke-width="1"/>
<line x1="589.6" y1="2.6" x2="589.6" y2="99.1" stroke="#505050" stroke-width="1"/>
<ellipse cx="589.4" cy="43.6" rx="51.9" ry="37.8" fill="none" stroke="#404040" stroke-width="0.75"/>
<line x1="524.9" y1="99.1" x2="650.6" y2="99.1" stroke="#505050" stroke-width="1"/>
<line x1="524.9" y1="99.1" x2="524.9" y2="6.3" stroke="#505050" stroke-width="1"/>
<polygon points="653.6,99.1 649.1,97.7 649.1,100.5" fill="#111"/>
<polygon points="524.9,3.3 523.5,7.8 526.3,7.8" fill="#111"/>
<text x="525.2" y="105.7" font-size="5.3" font-family='"Liberation Serif", serif' font-weight="bold" fill="#1a1a1a" text-anchor="middle" >-40</text>
<text x="541.3" y="105.7" font-size="5.3" font-family='"Liberation Serif", serif' font-weight="bold" fill="#1a1a1a" text-anchor="middle" >-30</text>
<text x="557.4" y="105.7" font-size="5.3" font-family='"Liberation Serif", serif' font-weight="bold" fill="#1a1a1a" text-anchor="middle" >-20</text>
<text x="573.5" y="105.7" font-size="5.3" font-family='"Liberation Serif", serif' font-weight="bold" fill="#1a1a1a" text-anchor="middle" >-10</text>
<text x="589.6" y="105.7" font-size="5.3" font-family='"Liberation Serif", serif' font-weight="bold" fill="#1a1a1a" text-anchor="middle" >0</text>
<text x="605.7" y="105.7" font-size="5.3" font-family='"Liberation Serif", serif' font-weight="bold" fill="#1a1a1a" text-anchor="middle" >10</text>
<text x="621.8" y="105.7" font-size="5.3" font-family='"Liberation Serif", serif' font-weight="bold" fill="#1a1a1a" text-anchor="middle" >20</text>
<text x="637.9" y="105.7" font-size="5.3" font-family='"Liberation Serif", serif' font-weight="bold" fill="#1a1a1a" text-anchor="middle" >30</text>
<line x1="525.2" y1="98.9" x2="525.2" y2="100.2" stroke="#1a1a1a" stroke-width="0.9"/>
<line x1="533.25" y1="98.9" x2="533.25" y2="100.2" stroke="#1a1a1a" stroke-width="0.9"/>
<line x1="541.3" y1="98.9" x2="541.3" y2="100.2" stroke="#1a1a1a" stroke-width="0.9"/>
<line x1="549.35" y1="98.9" x2="549.35" y2="100.2" stroke="#1a1a1a" stroke-width="0.9"/>
<line x1="557.4" y1="98.9" x2="557.4" y2="100.2" stroke="#1a1a1a" stroke-width="0.9"/>
<line x1="565.45" y1="98.9" x2="565.45" y2="100.2" stroke="#1a1a1a" stroke-width="0.9"/>
<line x1="573.5" y1="98.9" x2="573.5" y2="100.2" stroke="#1a1a1a" stroke-width="0.9"/>
<line x1="581.55" y1="98.9" x2="581.55" y2="100.2" stroke="#1a1a1a" stroke-width="0.9"/>
<line x1="589.6" y1="98.9" x2="589.6" y2="100.2" stroke="#1a1a1a" stroke-width="0.9"/>
<line x1="597.65" y1="98.9" x2="597.65" y2="100.2" stroke="#1a1a1a" stroke-width="0.9"/>
<line x1="605.7" y1="98.9" x2="605.7" y2="100.2" stroke="#1a1a1a" stroke-width="0.9"/>
<line x1="613.75" y1="98.9" x2="613.75" y2="100.2" stroke="#1a1a1a" stroke-width="0.9"/>
<line x1="621.8" y1="98.9" x2="621.8" y2="100.2" stroke="#1a1a1a" stroke-width="0.9"/>
<line x1="629.85" y1="98.9" x2="629.85" y2="100.2" stroke="#1a1a1a" stroke-width="0.9"/>
<line x1="637.9" y1="98.9" x2="637.9" y2="100.2" stroke="#1a1a1a" stroke-width="0.9"/>
<line x1="645.95" y1="98.9" x2="645.95" y2="100.2" stroke="#1a1a1a" stroke-width="0.9"/>
<text x="522.7" y="100.98" font-size="5.3" font-family='"Liberation Serif", serif' font-weight="bold" fill="#1a1a1a" text-anchor="end" >-80</text>
<text x="522.7" y="87.16" font-size="5.3" font-family='"Liberation Serif", serif' font-weight="bold" fill="#1a1a1a" text-anchor="end" >-60</text>
<text x="522.7" y="73.34" font-size="5.3" font-family='"Liberation Serif", serif' font-weight="bold" fill="#1a1a1a" text-anchor="end" >-40</text>
<text x="522.7" y="59.52" font-size="5.3" font-family='"Liberation Serif", serif' font-weight="bold" fill="#1a1a1a" text-anchor="end" >-20</text>
<text x="522.7" y="45.7" font-size="5.3" font-family='"Liberation Serif", serif' font-weight="bold" fill="#1a1a1a" text-anchor="end" >0</text>
<text x="522.7" y="31.88" font-size="5.3" font-family='"Liberation Serif", serif' font-weight="bold" fill="#1a1a1a" text-anchor="end" >20</text>
<text x="522.7" y="18.06" font-size="5.3" font-family='"Liberation Serif", serif' font-weight="bold" fill="#1a1a1a" text-anchor="end" >40</text>
<line x1="523.8" y1="99.18" x2="525.1" y2="99.18" stroke="#1a1a1a" stroke-width="0.9"/>
<line x1="523.8" y1="95.72" x2="525.1" y2="95.72" stroke="#1a1a1a" stroke-width="0.9"/>
<line x1="523.8" y1="92.27" x2="525.1" y2="92.27" stroke="#1a1a1a" stroke-width="0.9"/>
<line x1="523.8" y1="88.81" x2="525.1" y2="88.81" stroke="#1a1a1a" stroke-width="0.9"/>
<line x1="523.8" y1="85.36" x2="525.1" y2="85.36" stroke="#1a1a1a" stroke-width="0.9"/>
<line x1="523.8" y1="81.91" x2="525.1" y2="81.91" stroke="#1a1a1a" stroke-width="0.9"/>
<line x1="523.8" y1="78.45" x2="525.1" y2="78.45" stroke="#1a1a1a" stroke-width="0.9"/>
<line x1="523.8" y1="75" x2="525.1" y2="75" stroke="#1a1a1a" stroke-width="0.9"/>
<line x1="523.8" y1="71.54" x2="525.1" y2="71.54" stroke="#1a1a1a" stroke-width="0.9"/>
<line x1="523.8" y1="68.08" x2="525.1" y2="68.08" stroke="#1a1a1a" stroke-width="0.9"/>
<line x1="523.8" y1="64.63" x2="525.1" y2="64.63" stroke="#1a1a1a" stroke-width="0.9"/>
<line x1="523.8" y1="61.17" x2="525.1" y2="61.17" stroke="#1a1a1a" stroke-width="0.9"/>
<line x1="523.8" y1="57.72" x2="525.1" y2="57.72" stroke="#1a1a1a" stroke-width="0.9"/>
<line x1="523.8" y1="54.27" x2="525.1" y2="54.27" stroke="#1a1a1a" stroke-width="0.9"/>
<line x1="523.8" y1="50.81" x2="525.1" y2="50.81" stroke="#1a1a1a" stroke-width="0.9"/>
<line x1="523.8" y1="47.35" x2="525.1" y2="47.35" stroke="#1a1a1a" stroke-width="0.9"/>
<line x1="523.8" y1="43.9" x2="525.1" y2="43.9" stroke="#1a1a1a" stroke-width="0.9"/>
<line x1="523.8" y1="40.45" x2="525.1" y2="40.45" stroke="#1a1a1a" stroke-width="0.9"/>
<line x1="523.8" y1="36.99" x2="525.1" y2="36.99" stroke="#1a1a1a" stroke-width="0.9"/>
<line x1="523.8" y1="33.53" x2="525.1" y2="33.53" stroke="#1a1a1a" stroke-width="0.9"/>
<line x1="523.8" y1="30.08" x2="525.1" y2="30.08" stroke="#1a1a1a" stroke-width="0.9"/>
<line x1="523.8" y1="26.62" x2="525.1" y2="26.62" stroke="#1a1a1a" stroke-width="0.9"/>
<line x1="523.8" y1="23.17" x2="525.1" y2="23.17" stroke="#1a1a1a" stroke-width="0.9"/>
<line x1="523.8" y1="19.71" x2="525.1" y2="19.71" stroke="#1a1a1a" stroke-width="0.9"/>
<line x1="523.8" y1="16.26" x2="525.1" y2="16.26" stroke="#1a1a1a" stroke-width="0.9"/>
<line x1="523.8" y1="12.8" x2="525.1" y2="12.8" stroke="#1a1a1a" stroke-width="0.9"/>
<line x1="523.8" y1="9.35" x2="525.1" y2="9.35" stroke="#1a1a1a" stroke-width="0.9"/>
<text x="573.9" y="112" font-size="5.6" font-family='"Liberation Serif", serif' font-weight="bold" fill="#000" text-anchor="start" textLength="31.3" lengthAdjust="spacingAndGlyphs" stroke="#000" stroke-width="0.12">1.00224 * t[1]</text>
<text x="0" y="0" font-size="5.6" font-family='"Liberation Serif", serif' font-weight="bold" text-anchor="middle" textLength="35.3" lengthAdjust="spacingAndGlyphs" transform="translate(512.3 49.95) rotate(-90)">1.11122 * to[1]</text>
<text x="512.6" y="118" font-size="4.5" font-family='"Liberation Serif", serif' font-weight="bold" fill="#111" text-anchor="start" textLength="26.3" lengthAdjust="spacingAndGlyphs" stroke="#111" stroke-width="0.15">R2X[1] = 0.0821</text>
<text x="552.7" y="118" font-size="4.5" font-family='"Liberation Serif", serif' font-weight="bold" fill="#111" text-anchor="start" textLength="46.6" lengthAdjust="spacingAndGlyphs" stroke="#111" stroke-width="0.15">R2X[2](Side Comp. 1) = 0.239</text>
<text x="603.1" y="118" font-size="4.5" font-family='"Liberation Serif", serif' font-weight="bold" fill="#111" text-anchor="start" textLength="45.9" lengthAdjust="spacingAndGlyphs" stroke="#111" stroke-width="0.15">Ellipse: Hotelling's T2 (95%)</text>
<circle cx="569.8" cy="18.7" r="2.55" fill="#808000" stroke="#4d4d00" stroke-width="0.5"/>
<circle cx="567.5" cy="22.2" r="2.55" fill="#808000" stroke="#4d4d00" stroke-width="0.5"/>
<circle cx="575.1" cy="23.9" r="2.55" fill="#808000" stroke="#4d4d00" stroke-width="0.5"/>
<circle cx="566.3" cy="26.7" r="2.55" fill="#808000" stroke="#4d4d00" stroke-width="0.5"/>
<circle cx="570.4" cy="28.1" r="2.55" fill="#808000" stroke="#4d4d00" stroke-width="0.5"/>
<circle cx="574" cy="27.8" r="2.55" fill="#808000" stroke="#4d4d00" stroke-width="0.5"/>
<circle cx="573.6" cy="31.4" r="2.55" fill="#808000" stroke="#4d4d00" stroke-width="0.5"/>
<circle cx="568.6" cy="37.8" r="2.55" fill="#808000" stroke="#4d4d00" stroke-width="0.5"/>
<circle cx="575.1" cy="38.1" r="2.55" fill="#808000" stroke="#4d4d00" stroke-width="0.5"/>
<circle cx="573.1" cy="40.3" r="2.55" fill="#808000" stroke="#4d4d00" stroke-width="0.5"/>
<circle cx="566.9" cy="41.9" r="2.55" fill="#808000" stroke="#4d4d00" stroke-width="0.5"/>
<circle cx="571.3" cy="43.1" r="2.55" fill="#808000" stroke="#4d4d00" stroke-width="0.5"/>
<circle cx="571.6" cy="47.2" r="2.55" fill="#808000" stroke="#4d4d00" stroke-width="0.5"/>
<circle cx="568.1" cy="50.9" r="2.55" fill="#808000" stroke="#4d4d00" stroke-width="0.5"/>
<circle cx="572.4" cy="50.8" r="2.55" fill="#808000" stroke="#4d4d00" stroke-width="0.5"/>
<circle cx="575.2" cy="53.6" r="2.55" fill="#808000" stroke="#4d4d00" stroke-width="0.5"/>
<circle cx="573.7" cy="57.2" r="2.55" fill="#808000" stroke="#4d4d00" stroke-width="0.5"/>
<circle cx="579.2" cy="58.4" r="2.55" fill="#808000" stroke="#4d4d00" stroke-width="0.5"/>
<circle cx="575.1" cy="60.3" r="2.55" fill="#808000" stroke="#4d4d00" stroke-width="0.5"/>
<circle cx="572.5" cy="65.8" r="2.55" fill="#808000" stroke="#4d4d00" stroke-width="0.5"/>
<circle cx="575.7" cy="65.4" r="2.55" fill="#808000" stroke="#4d4d00" stroke-width="0.5"/>
<circle cx="564.6" cy="85.3" r="2.55" fill="#808000" stroke="#4d4d00" stroke-width="0.5"/>
<polygon points="611.5,20.6 613.95,25 609.05,25" fill="#ff0000" stroke="#a00000" stroke-width="0.4"/>
<polygon points="613.9,23.1 616.35,27.5 611.45,27.5" fill="#ff0000" stroke="#a00000" stroke-width="0.4"/>
<polygon points="617.5,25.6 619.95,30 615.05,30" fill="#ff0000" stroke="#a00000" stroke-width="0.4"/>
<polygon points="613.5,25.5 615.95,29.9 611.05,29.9" fill="#ff0000" stroke="#a00000" stroke-width="0.4"/>
<polygon points="609.2,27.8 611.65,32.2 606.75,32.2" fill="#ff0000" stroke="#a00000" stroke-width="0.4"/>
<polygon points="609.4,33.9 611.85,38.3 606.95,38.3" fill="#ff0000" stroke="#a00000" stroke-width="0.4"/>
<polygon points="612.9,34.2 615.35,38.6 610.45,38.6" fill="#ff0000" stroke="#a00000" stroke-width="0.4"/>
<polygon points="608,36.2 610.45,40.6 605.55,40.6" fill="#ff0000" stroke="#a00000" stroke-width="0.4"/>
<polygon points="612.1,36.2 614.55,40.6 609.65,40.6" fill="#ff0000" stroke="#a00000" stroke-width="0.4"/>
<polygon points="609.8,38.2 612.25,42.6 607.35,42.6" fill="#ff0000" stroke="#a00000" stroke-width="0.4"/>
<polygon points="610.9,45 613.35,49.4 608.45,49.4" fill="#ff0000" stroke="#a00000" stroke-width="0.4"/>
<polygon points="613.9,45.2 616.35,49.6 611.45,49.6" fill="#ff0000" stroke="#a00000" stroke-width="0.4"/>
<polygon points="618.5,46.2 620.95,50.6 616.05,50.6" fill="#ff0000" stroke="#a00000" stroke-width="0.4"/>
<polygon points="614.5,47.9 616.95,52.3 612.05,52.3" fill="#ff0000" stroke="#a00000" stroke-width="0.4"/>
<polygon points="609.1,49.3 611.55,53.7 606.65,53.7" fill="#ff0000" stroke="#a00000" stroke-width="0.4"/>
<polygon points="612.9,58.3 615.35,62.7 610.45,62.7" fill="#ff0000" stroke="#a00000" stroke-width="0.4"/>
<polygon points="606.3,63.6 608.75,68 603.85,68" fill="#ff0000" stroke="#a00000" stroke-width="0.4"/>
<polygon points="607.4,69.1 609.85,73.5 604.95,73.5" fill="#ff0000" stroke="#a00000" stroke-width="0.4"/>
<line x1="39.5" y1="180.8" x2="167.2" y2="180.8" stroke="#505050" stroke-width="1"/>
<line x1="104.3" y1="132.9" x2="104.3" y2="229.3" stroke="#505050" stroke-width="1"/>
<ellipse cx="104.4" cy="180.8" rx="60.3" ry="45.5" fill="none" stroke="#404040" stroke-width="0.75"/>
<line x1="39.5" y1="229.3" x2="164.7" y2="229.3" stroke="#505050" stroke-width="1"/>
<line x1="39.5" y1="229.3" x2="39.5" y2="136.3" stroke="#505050" stroke-width="1"/>
<polygon points="167.7,229.3 163.2,227.9 163.2,230.7" fill="#111"/>
<polygon points="39.5,133.3 38.1,137.8 40.9,137.8" fill="#111"/>
<text x="39.9" y="235.9" font-size="5.3" font-family='"Liberation Serif", serif' font-weight="bold" fill="#1a1a1a" text-anchor="middle" >-40</text>
<text x="56" y="235.9" font-size="5.3" font-family='"Liberation Serif", serif' font-weight="bold" fill="#1a1a1a" text-anchor="middle" >-30</text>
<text x="72.1" y="235.9" font-size="5.3" font-family='"Liberation Serif", serif' font-weight="bold" fill="#1a1a1a" text-anchor="middle" >-20</text>
<text x="88.2" y="235.9" font-size="5.3" font-family='"Liberation Serif", serif' font-weight="bold" fill="#1a1a1a" text-anchor="middle" >-10</text>
<text x="104.3" y="235.9" font-size="5.3" font-family='"Liberation Serif", serif' font-weight="bold" fill="#1a1a1a" text-anchor="middle" >0</text>
<text x="120.4" y="235.9" font-size="5.3" font-family='"Liberation Serif", serif' font-weight="bold" fill="#1a1a1a" text-anchor="middle" >10</text>
<text x="136.5" y="235.9" font-size="5.3" font-family='"Liberation Serif", serif' font-weight="bold" fill="#1a1a1a" text-anchor="middle" >20</text>
<text x="152.6" y="235.9" font-size="5.3" font-family='"Liberation Serif", serif' font-weight="bold" fill="#1a1a1a" text-anchor="middle" >30</text>
<line x1="39.9" y1="229.1" x2="39.9" y2="230.4" stroke="#1a1a1a" stroke-width="0.9"/>
<line x1="47.95" y1="229.1" x2="47.95" y2="230.4" stroke="#1a1a1a" stroke-width="0.9"/>
<line x1="56" y1="229.1" x2="56" y2="230.4" stroke="#1a1a1a" stroke-width="0.9"/>
<line x1="64.05" y1="229.1" x2="64.05" y2="230.4" stroke="#1a1a1a" stroke-width="0.9"/>
<line x1="72.1" y1="229.1" x2="72.1" y2="230.4" stroke="#1a1a1a" stroke-width="0.9"/>
<line x1="80.15" y1="229.1" x2="80.15" y2="230.4" stroke="#1a1a1a" stroke-width="0.9"/>
<line x1="88.2" y1="229.1" x2="88.2" y2="230.4" stroke="#1a1a1a" stroke-width="0.9"/>
<line x1="96.25" y1="229.1" x2="96.25" y2="230.4" stroke="#1a1a1a" stroke-width="0.9"/>
<line x1="104.3" y1="229.1" x2="104.3" y2="230.4" stroke="#1a1a1a" stroke-width="0.9"/>
<line x1="112.35" y1="229.1" x2="112.35" y2="230.4" stroke="#1a1a1a" stroke-width="0.9"/>
<line x1="120.4" y1="229.1" x2="120.4" y2="230.4" stroke="#1a1a1a" stroke-width="0.9"/>
<line x1="128.45" y1="229.1" x2="128.45" y2="230.4" stroke="#1a1a1a" stroke-width="0.9"/>
<line x1="136.5" y1="229.1" x2="136.5" y2="230.4" stroke="#1a1a1a" stroke-width="0.9"/>
<line x1="144.55" y1="229.1" x2="144.55" y2="230.4" stroke="#1a1a1a" stroke-width="0.9"/>
<line x1="152.6" y1="229.1" x2="152.6" y2="230.4" stroke="#1a1a1a" stroke-width="0.9"/>
<line x1="160.65" y1="229.1" x2="160.65" y2="230.4" stroke="#1a1a1a" stroke-width="0.9"/>
<text x="37.3" y="231" font-size="5.3" font-family='"Liberation Serif", serif' font-weight="bold" fill="#1a1a1a" text-anchor="end" >-50</text>
<text x="37.3" y="221.32" font-size="5.3" font-family='"Liberation Serif", serif' font-weight="bold" fill="#1a1a1a" text-anchor="end" >-40</text>
<text x="37.3" y="211.64" font-size="5.3" font-family='"Liberation Serif", serif' font-weight="bold" fill="#1a1a1a" text-anchor="end" >-30</text>
<text x="37.3" y="201.96" font-size="5.3" font-family='"Liberation Serif", serif' font-weight="bold" fill="#1a1a1a" text-anchor="end" >-20</text>
<text x="37.3" y="192.28" font-size="5.3" font-family='"Liberation Serif", serif' font-weight="bold" fill="#1a1a1a" text-anchor="end" >-10</text>
<text x="37.3" y="182.6" font-size="5.3" font-family='"Liberation Serif", serif' font-weight="bold" fill="#1a1a1a" text-anchor="end" >0</text>
<text x="37.3" y="172.92" font-size="5.3" font-family='"Liberation Serif", serif' font-weight="bold" fill="#1a1a1a" text-anchor="end" >10</text>
<text x="37.3" y="163.24" font-size="5.3" font-family='"Liberation Serif", serif' font-weight="bold" fill="#1a1a1a" text-anchor="end" >20</text>
<text x="37.3" y="153.56" font-size="5.3" font-family='"Liberation Serif", serif' font-weight="bold" fill="#1a1a1a" text-anchor="end" >30</text>
<text x="37.3" y="143.88" font-size="5.3" font-family='"Liberation Serif", serif' font-weight="bold" fill="#1a1a1a" text-anchor="end" >40</text>
<line x1="38.4" y1="229.2" x2="39.7" y2="229.2" stroke="#1a1a1a" stroke-width="0.9"/>
<line x1="38.4" y1="224.36" x2="39.7" y2="224.36" stroke="#1a1a1a" stroke-width="0.9"/>
<line x1="38.4" y1="219.52" x2="39.7" y2="219.52" stroke="#1a1a1a" stroke-width="0.9"/>
<line x1="38.4" y1="214.68" x2="39.7" y2="214.68" stroke="#1a1a1a" stroke-width="0.9"/>
<line x1="38.4" y1="209.84" x2="39.7" y2="209.84" stroke="#1a1a1a" stroke-width="0.9"/>
<line x1="38.4" y1="205" x2="39.7" y2="205" stroke="#1a1a1a" stroke-width="0.9"/>
<line x1="38.4" y1="200.16" x2="39.7" y2="200.16" stroke="#1a1a1a" stroke-width="0.9"/>
<line x1="38.4" y1="195.32" x2="39.7" y2="195.32" stroke="#1a1a1a" stroke-width="0.9"/>
<line x1="38.4" y1="190.48" x2="39.7" y2="190.48" stroke="#1a1a1a" stroke-width="0.9"/>
<line x1="38.4" y1="185.64" x2="39.7" y2="185.64" stroke="#1a1a1a" stroke-width="0.9"/>
<line x1="38.4" y1="180.8" x2="39.7" y2="180.8" stroke="#1a1a1a" stroke-width="0.9"/>
<line x1="38.4" y1="175.96" x2="39.7" y2="175.96" stroke="#1a1a1a" stroke-width="0.9"/>
<line x1="38.4" y1="171.12" x2="39.7" y2="171.12" stroke="#1a1a1a" stroke-width="0.9"/>
<line x1="38.4" y1="166.28" x2="39.7" y2="166.28" stroke="#1a1a1a" stroke-width="0.9"/>
<line x1="38.4" y1="161.44" x2="39.7" y2="161.44" stroke="#1a1a1a" stroke-width="0.9"/>
<line x1="38.4" y1="156.6" x2="39.7" y2="156.6" stroke="#1a1a1a" stroke-width="0.9"/>
<line x1="38.4" y1="151.76" x2="39.7" y2="151.76" stroke="#1a1a1a" stroke-width="0.9"/>
<line x1="38.4" y1="146.92" x2="39.7" y2="146.92" stroke="#1a1a1a" stroke-width="0.9"/>
<line x1="38.4" y1="142.08" x2="39.7" y2="142.08" stroke="#1a1a1a" stroke-width="0.9"/>
<text x="88.3" y="243.1" font-size="5.6" font-family='"Liberation Serif", serif' font-weight="bold" fill="#000" text-anchor="start" textLength="32" lengthAdjust="spacingAndGlyphs" >1.00287 * t[1]</text>
<text x="0" y="0" font-size="5.6" font-family='"Liberation Serif", serif' font-weight="bold" text-anchor="middle" textLength="36.2" lengthAdjust="spacingAndGlyphs" transform="translate(28.2 179.4) rotate(-90)">1.27195 * to[1]</text>
<text x="27.7" y="249" font-size="4.5" font-family='"Liberation Serif", serif' font-weight="bold" fill="#222" text-anchor="start" textLength="24.7" lengthAdjust="spacingAndGlyphs" >R2X[1] = 0.116</text>
<text x="66.6" y="249" font-size="4.5" font-family='"Liberation Serif", serif' font-weight="bold" fill="#222" text-anchor="start" textLength="47.1" lengthAdjust="spacingAndGlyphs" >R2X[2](Side Comp. 1) = 0.308</text>
<text x="117.4" y="249" font-size="4.5" font-family='"Liberation Serif", serif' font-weight="bold" fill="#222" text-anchor="start" textLength="45.6" lengthAdjust="spacingAndGlyphs" >Ellipse: Hotelling's T2 (95%)</text>
<polygon points="81.1,152.4 83.8,155.1 81.1,157.8 78.4,155.1" fill="#00f000" stroke="#2a8a2a" stroke-width="0.4"/>
<polygon points="85,152.1 87.7,154.8 85,157.5 82.3,154.8" fill="#00f000" stroke="#2a8a2a" stroke-width="0.4"/>
<polygon points="77,165.7 79.7,168.4 77,171.1 74.3,168.4" fill="#00f000" stroke="#2a8a2a" stroke-width="0.4"/>
<polygon points="79.1,167.3 81.8,170 79.1,172.7 76.4,170" fill="#00f000" stroke="#2a8a2a" stroke-width="0.4"/>
<polygon points="85.8,168.9 88.5,171.6 85.8,174.3 83.1,171.6" fill="#00f000" stroke="#2a8a2a" stroke-width="0.4"/>
<polygon points="77.6,171 80.3,173.7 77.6,176.4 74.9,173.7" fill="#00f000" stroke="#2a8a2a" stroke-width="0.4"/>
<polygon points="79.4,177.1 82.1,179.8 79.4,182.5 76.7,179.8" fill="#00f000" stroke="#2a8a2a" stroke-width="0.4"/>
<polygon points="78.2,178.6 80.9,181.3 78.2,184 75.5,181.3" fill="#00f000" stroke="#2a8a2a" stroke-width="0.4"/>
<polygon points="80.3,177.4 83,180.1 80.3,182.8 77.6,180.1" fill="#00f000" stroke="#2a8a2a" stroke-width="0.4"/>
<polygon points="80.5,184.9 83.2,187.6 80.5,190.3 77.8,187.6" fill="#00f000" stroke="#2a8a2a" stroke-width="0.4"/>
<polygon points="84.1,185.5 86.8,188.2 84.1,190.9 81.4,188.2" fill="#00f000" stroke="#2a8a2a" stroke-width="0.4"/>
<polygon points="77.6,194.2 80.3,196.9 77.6,199.6 74.9,196.9" fill="#00f000" stroke="#2a8a2a" stroke-width="0.4"/>
<polygon points="80,195.1 82.7,197.8 80,200.5 77.3,197.8" fill="#00f000" stroke="#2a8a2a" stroke-width="0.4"/>
<polygon points="82.4,207.6 85.1,210.3 82.4,213 79.7,210.3" fill="#00f000" stroke="#2a8a2a" stroke-width="0.4"/>
<polygon points="125.9,140.74 126.78,142.5 128.75,143.3 126.78,144.1 125.9,145.87 125.02,144.1 123.05,143.3 125.02,142.5" fill="#14b4e6" stroke="#1d4c66" stroke-width="0.55"/>
<polygon points="122.8,155.94 123.68,157.7 125.65,158.5 123.68,159.3 122.8,161.06 121.92,159.3 119.95,158.5 121.92,157.7" fill="#14b4e6" stroke="#1d4c66" stroke-width="0.55"/>
<polygon points="124.3,159.63 125.18,161.4 127.15,162.2 125.18,163 124.3,164.76 123.42,163 121.45,162.2 123.42,161.4" fill="#14b4e6" stroke="#1d4c66" stroke-width="0.55"/>
<polygon points="118.1,164.44 118.98,166.2 120.95,167 118.98,167.8 118.1,169.56 117.22,167.8 115.25,167 117.22,166.2" fill="#14b4e6" stroke="#1d4c66" stroke-width="0.55"/>
<polygon points="127.4,167.34 128.28,169.1 130.25,169.9 128.28,170.7 127.4,172.47 126.52,170.7 124.55,169.9 126.52,169.1" fill="#14b4e6" stroke="#1d4c66" stroke-width="0.55"/>
<polygon points="131.6,167.94 132.48,169.7 134.45,170.5 132.48,171.3 131.6,173.06 130.72,171.3 128.75,170.5 130.72,169.7" fill="#14b4e6" stroke="#1d4c66" stroke-width="0.55"/>
<polygon points="121.6,179.03 122.48,180.8 124.45,181.6 122.48,182.4 121.6,184.16 120.72,182.4 118.75,181.6 120.72,180.8" fill="#14b4e6" stroke="#1d4c66" stroke-width="0.55"/>
<polygon points="123.9,178.24 124.78,180 126.75,180.8 124.78,181.6 123.9,183.37 123.02,181.6 121.05,180.8 123.02,180" fill="#14b4e6" stroke="#1d4c66" stroke-width="0.55"/>
<polygon points="127.4,177.34 128.28,179.1 130.25,179.9 128.28,180.7 127.4,182.47 126.52,180.7 124.55,179.9 126.52,179.1" fill="#14b4e6" stroke="#1d4c66" stroke-width="0.55"/>
<polygon points="126.3,179.74 127.18,181.5 129.15,182.3 127.18,183.1 126.3,184.87 125.42,183.1 123.45,182.3 125.42,181.5" fill="#14b4e6" stroke="#1d4c66" stroke-width="0.55"/>
<polygon points="128.3,178.24 129.18,180 131.15,180.8 129.18,181.6 128.3,183.37 127.42,181.6 125.45,180.8 127.42,180" fill="#14b4e6" stroke="#1d4c66" stroke-width="0.55"/>
<polygon points="121,185.03 121.88,186.8 123.85,187.6 121.88,188.4 121,190.16 120.12,188.4 118.15,187.6 120.12,186.8" fill="#14b4e6" stroke="#1d4c66" stroke-width="0.55"/>
<polygon points="122.6,183.63 123.48,185.4 125.45,186.2 123.48,187 122.6,188.76 121.72,187 119.75,186.2 121.72,185.4" fill="#14b4e6" stroke="#1d4c66" stroke-width="0.55"/>
<polygon points="125,185.44 125.88,187.2 127.85,188 125.88,188.8 125,190.56 124.12,188.8 122.15,188 124.12,187.2" fill="#14b4e6" stroke="#1d4c66" stroke-width="0.55"/>
<polygon points="130.1,195.84 130.98,197.6 132.95,198.4 130.98,199.2 130.1,200.97 129.22,199.2 127.25,198.4 129.22,197.6" fill="#14b4e6" stroke="#1d4c66" stroke-width="0.55"/>
<polygon points="129.2,208.74 130.08,210.5 132.05,211.3 130.08,212.1 129.2,213.87 128.32,212.1 126.35,211.3 128.32,210.5" fill="#14b4e6" stroke="#1d4c66" stroke-width="0.55"/>
<polygon points="123.5,220.94 124.38,222.7 126.35,223.5 124.38,224.3 123.5,226.06 122.62,224.3 120.65,223.5 122.62,222.7" fill="#14b4e6" stroke="#1d4c66" stroke-width="0.55"/>
<line x1="186.7" y1="180.8" x2="315.9" y2="180.8" stroke="#505050" stroke-width="1"/>
<line x1="251.4" y1="132.9" x2="251.4" y2="229" stroke="#505050" stroke-width="1"/>
<ellipse cx="251.35" cy="180.6" rx="49.95" ry="41.3" fill="none" stroke="#404040" stroke-width="0.75"/>
<line x1="186.7" y1="229" x2="311.7" y2="229" stroke="#505050" stroke-width="1"/>
<line x1="186.7" y1="229" x2="186.7" y2="136.5" stroke="#505050" stroke-width="1"/>
<polygon points="314.7,229 310.2,227.6 310.2,230.4" fill="#111"/>
<polygon points="186.7,133.5 185.3,138 188.1,138" fill="#111"/>
<text x="186.6" y="236" font-size="5.3" font-family='"Liberation Serif", serif' font-weight="bold" fill="#1a1a1a" text-anchor="middle" >-40</text>
<text x="202.8" y="236" font-size="5.3" font-family='"Liberation Serif", serif' font-weight="bold" fill="#1a1a1a" text-anchor="middle" >-30</text>
<text x="219" y="236" font-size="5.3" font-family='"Liberation Serif", serif' font-weight="bold" fill="#1a1a1a" text-anchor="middle" >-20</text>
<text x="235.2" y="236" font-size="5.3" font-family='"Liberation Serif", serif' font-weight="bold" fill="#1a1a1a" text-anchor="middle" >-10</text>
<text x="251.4" y="236" font-size="5.3" font-family='"Liberation Serif", serif' font-weight="bold" fill="#1a1a1a" text-anchor="middle" >0</text>
<text x="267.6" y="236" font-size="5.3" font-family='"Liberation Serif", serif' font-weight="bold" fill="#1a1a1a" text-anchor="middle" >10</text>
<text x="283.8" y="236" font-size="5.3" font-family='"Liberation Serif", serif' font-weight="bold" fill="#1a1a1a" text-anchor="middle" >20</text>
<text x="300" y="236" font-size="5.3" font-family='"Liberation Serif", serif' font-weight="bold" fill="#1a1a1a" text-anchor="middle" >30</text>
<line x1="186.6" y1="228.8" x2="186.6" y2="230.1" stroke="#1a1a1a" stroke-width="0.9"/>
<line x1="194.7" y1="228.8" x2="194.7" y2="230.1" stroke="#1a1a1a" stroke-width="0.9"/>
<line x1="202.8" y1="228.8" x2="202.8" y2="230.1" stroke="#1a1a1a" stroke-width="0.9"/>
<line x1="210.9" y1="228.8" x2="210.9" y2="230.1" stroke="#1a1a1a" stroke-width="0.9"/>
<line x1="219" y1="228.8" x2="219" y2="230.1" stroke="#1a1a1a" stroke-width="0.9"/>
<line x1="227.1" y1="228.8" x2="227.1" y2="230.1" stroke="#1a1a1a" stroke-width="0.9"/>
<line x1="235.2" y1="228.8" x2="235.2" y2="230.1" stroke="#1a1a1a" stroke-width="0.9"/>
<line x1="243.3" y1="228.8" x2="243.3" y2="230.1" stroke="#1a1a1a" stroke-width="0.9"/>
<line x1="251.4" y1="228.8" x2="251.4" y2="230.1" stroke="#1a1a1a" stroke-width="0.9"/>
<line x1="259.5" y1="228.8" x2="259.5" y2="230.1" stroke="#1a1a1a" stroke-width="0.9"/>
<line x1="267.6" y1="228.8" x2="267.6" y2="230.1" stroke="#1a1a1a" stroke-width="0.9"/>
<line x1="275.7" y1="228.8" x2="275.7" y2="230.1" stroke="#1a1a1a" stroke-width="0.9"/>
<line x1="283.8" y1="228.8" x2="283.8" y2="230.1" stroke="#1a1a1a" stroke-width="0.9"/>
<line x1="291.9" y1="228.8" x2="291.9" y2="230.1" stroke="#1a1a1a" stroke-width="0.9"/>
<line x1="300" y1="228.8" x2="300" y2="230.1" stroke="#1a1a1a" stroke-width="0.9"/>
<line x1="308.1" y1="228.8" x2="308.1" y2="230.1" stroke="#1a1a1a" stroke-width="0.9"/>
<text x="184.5" y="231.2" font-size="5.3" font-family='"Liberation Serif", serif' font-weight="bold" fill="#1a1a1a" text-anchor="end" >-80</text>
<text x="184.5" y="219.05" font-size="5.3" font-family='"Liberation Serif", serif' font-weight="bold" fill="#1a1a1a" text-anchor="end" >-60</text>
<text x="184.5" y="206.9" font-size="5.3" font-family='"Liberation Serif", serif' font-weight="bold" fill="#1a1a1a" text-anchor="end" >-40</text>
<text x="184.5" y="194.75" font-size="5.3" font-family='"Liberation Serif", serif' font-weight="bold" fill="#1a1a1a" text-anchor="end" >-20</text>
<text x="184.5" y="182.6" font-size="5.3" font-family='"Liberation Serif", serif' font-weight="bold" fill="#1a1a1a" text-anchor="end" >0</text>
<text x="184.5" y="170.45" font-size="5.3" font-family='"Liberation Serif", serif' font-weight="bold" fill="#1a1a1a" text-anchor="end" >20</text>
<text x="184.5" y="158.3" font-size="5.3" font-family='"Liberation Serif", serif' font-weight="bold" fill="#1a1a1a" text-anchor="end" >40</text>
<text x="184.5" y="146.15" font-size="5.3" font-family='"Liberation Serif", serif' font-weight="bold" fill="#1a1a1a" text-anchor="end" >60</text>
<line x1="185.6" y1="229.4" x2="186.9" y2="229.4" stroke="#1a1a1a" stroke-width="0.9"/>
<line x1="185.6" y1="226.36" x2="186.9" y2="226.36" stroke="#1a1a1a" stroke-width="0.9"/>
<line x1="185.6" y1="223.33" x2="186.9" y2="223.33" stroke="#1a1a1a" stroke-width="0.9"/>
<line x1="185.6" y1="220.29" x2="186.9" y2="220.29" stroke="#1a1a1a" stroke-width="0.9"/>
<line x1="185.6" y1="217.25" x2="186.9" y2="217.25" stroke="#1a1a1a" stroke-width="0.9"/>
<line x1="185.6" y1="214.21" x2="186.9" y2="214.21" stroke="#1a1a1a" stroke-width="0.9"/>
<line x1="185.6" y1="211.18" x2="186.9" y2="211.18" stroke="#1a1a1a" stroke-width="0.9"/>
<line x1="185.6" y1="208.14" x2="186.9" y2="208.14" stroke="#1a1a1a" stroke-width="0.9"/>
<line x1="185.6" y1="205.1" x2="186.9" y2="205.1" stroke="#1a1a1a" stroke-width="0.9"/>
<line x1="185.6" y1="202.06" x2="186.9" y2="202.06" stroke="#1a1a1a" stroke-width="0.9"/>
<line x1="185.6" y1="199.03" x2="186.9" y2="199.03" stroke="#1a1a1a" stroke-width="0.9"/>
<line x1="185.6" y1="195.99" x2="186.9" y2="195.99" stroke="#1a1a1a" stroke-width="0.9"/>
<line x1="185.6" y1="192.95" x2="186.9" y2="192.95" stroke="#1a1a1a" stroke-width="0.9"/>
<line x1="185.6" y1="189.91" x2="186.9" y2="189.91" stroke="#1a1a1a" stroke-width="0.9"/>
<line x1="185.6" y1="186.88" x2="186.9" y2="186.88" stroke="#1a1a1a" stroke-width="0.9"/>
<line x1="185.6" y1="183.84" x2="186.9" y2="183.84" stroke="#1a1a1a" stroke-width="0.9"/>
<line x1="185.6" y1="180.8" x2="186.9" y2="180.8" stroke="#1a1a1a" stroke-width="0.9"/>
<line x1="185.6" y1="177.76" x2="186.9" y2="177.76" stroke="#1a1a1a" stroke-width="0.9"/>
<line x1="185.6" y1="174.73" x2="186.9" y2="174.73" stroke="#1a1a1a" stroke-width="0.9"/>
<line x1="185.6" y1="171.69" x2="186.9" y2="171.69" stroke="#1a1a1a" stroke-width="0.9"/>
<line x1="185.6" y1="168.65" x2="186.9" y2="168.65" stroke="#1a1a1a" stroke-width="0.9"/>
<line x1="185.6" y1="165.61" x2="186.9" y2="165.61" stroke="#1a1a1a" stroke-width="0.9"/>
<line x1="185.6" y1="162.58" x2="186.9" y2="162.58" stroke="#1a1a1a" stroke-width="0.9"/>
<line x1="185.6" y1="159.54" x2="186.9" y2="159.54" stroke="#1a1a1a" stroke-width="0.9"/>
<line x1="185.6" y1="156.5" x2="186.9" y2="156.5" stroke="#1a1a1a" stroke-width="0.9"/>
<line x1="185.6" y1="153.46" x2="186.9" y2="153.46" stroke="#1a1a1a" stroke-width="0.9"/>
<line x1="185.6" y1="150.43" x2="186.9" y2="150.43" stroke="#1a1a1a" stroke-width="0.9"/>
<line x1="185.6" y1="147.39" x2="186.9" y2="147.39" stroke="#1a1a1a" stroke-width="0.9"/>
<line x1="185.6" y1="144.35" x2="186.9" y2="144.35" stroke="#1a1a1a" stroke-width="0.9"/>
<line x1="185.6" y1="141.31" x2="186.9" y2="141.31" stroke="#1a1a1a" stroke-width="0.9"/>
<text x="235.7" y="242.9" font-size="5.6" font-family='"Liberation Serif", serif' font-weight="bold" fill="#000" text-anchor="start" textLength="31.1" lengthAdjust="spacingAndGlyphs" >1.00036 * t[1]</text>
<text x="0" y="0" font-size="5.6" font-family='"Liberation Serif", serif' font-weight="bold" text-anchor="middle" textLength="35.5" lengthAdjust="spacingAndGlyphs" transform="translate(175.6 181.05) rotate(-90)">1.08863 * to[1]</text>
<text x="174.4" y="249" font-size="4.5" font-family='"Liberation Serif", serif' font-weight="bold" fill="#222" text-anchor="start" textLength="25.8" lengthAdjust="spacingAndGlyphs" >R2X[1] = 0.0723</text>
<text x="213.8" y="249" font-size="4.5" font-family='"Liberation Serif", serif' font-weight="bold" fill="#222" text-anchor="start" textLength="47.1" lengthAdjust="spacingAndGlyphs" >R2X[2](Side Comp. 1) = 0.352</text>
<text x="264.6" y="249" font-size="4.5" font-family='"Liberation Serif", serif' font-weight="bold" fill="#222" text-anchor="start" textLength="45.5" lengthAdjust="spacingAndGlyphs" >Ellipse: Hotelling's T2 (95%)</text>
<polygon points="229.8,159.5 232.5,162.2 229.8,164.9 227.1,162.2" fill="#00f000" stroke="#2a8a2a" stroke-width="0.4"/>
<polygon points="231.8,162.4 234.5,165.1 231.8,167.8 229.1,165.1" fill="#00f000" stroke="#2a8a2a" stroke-width="0.4"/>
<polygon points="229.5,164.7 232.2,167.4 229.5,170.1 226.8,167.4" fill="#00f000" stroke="#2a8a2a" stroke-width="0.4"/>
<polygon points="231.2,169.3 233.9,172 231.2,174.7 228.5,172" fill="#00f000" stroke="#2a8a2a" stroke-width="0.4"/>
<polygon points="231.8,173.7 234.5,176.4 231.8,179.1 229.1,176.4" fill="#00f000" stroke="#2a8a2a" stroke-width="0.4"/>
<polygon points="233.5,175.4 236.2,178.1 233.5,180.8 230.8,178.1" fill="#00f000" stroke="#2a8a2a" stroke-width="0.4"/>
<polygon points="232.1,178.7 234.8,181.4 232.1,184.1 229.4,181.4" fill="#00f000" stroke="#2a8a2a" stroke-width="0.4"/>
<polygon points="230,179.8 232.7,182.5 230,185.2 227.3,182.5" fill="#00f000" stroke="#2a8a2a" stroke-width="0.4"/>
<polygon points="230,183.9 232.7,186.6 230,189.3 227.3,186.6" fill="#00f000" stroke="#2a8a2a" stroke-width="0.4"/>
<polygon points="230,195.5 232.7,198.2 230,200.9 227.3,198.2" fill="#00f000" stroke="#2a8a2a" stroke-width="0.4"/>
<polygon points="232.1,198.4 234.8,201.1 232.1,203.8 229.4,201.1" fill="#00f000" stroke="#2a8a2a" stroke-width="0.4"/>
<polygon points="231.8,210.1 234.5,212.8 231.8,215.5 229.1,212.8" fill="#00f000" stroke="#2a8a2a" stroke-width="0.4"/>
<polygon points="268.7,157.94 269.58,159.7 271.55,160.5 269.58,161.3 268.7,163.06 267.82,161.3 265.85,160.5 267.82,159.7" fill="#14b4e6" stroke="#1d4c66" stroke-width="0.55"/>
<polygon points="268,164.24 268.88,166 270.85,166.8 268.88,167.6 268,169.37 267.12,167.6 265.15,166.8 267.12,166" fill="#14b4e6" stroke="#1d4c66" stroke-width="0.55"/>
<polygon points="271.4,164.24 272.28,166 274.25,166.8 272.28,167.6 271.4,169.37 270.52,167.6 268.55,166.8 270.52,166" fill="#14b4e6" stroke="#1d4c66" stroke-width="0.55"/>
<polygon points="268.6,168.84 269.48,170.6 271.45,171.4 269.48,172.2 268.6,173.97 267.72,172.2 265.75,171.4 267.72,170.6" fill="#14b4e6" stroke="#1d4c66" stroke-width="0.55"/>
<polygon points="268.3,171.44 269.18,173.2 271.15,174 269.18,174.8 268.3,176.56 267.42,174.8 265.45,174 267.42,173.2" fill="#14b4e6" stroke="#1d4c66" stroke-width="0.55"/>
<polygon points="269.2,172.84 270.08,174.6 272.05,175.4 270.08,176.2 269.2,177.97 268.32,176.2 266.35,175.4 268.32,174.6" fill="#14b4e6" stroke="#1d4c66" stroke-width="0.55"/>
<polygon points="268.4,175.24 269.28,177 271.25,177.8 269.28,178.6 268.4,180.37 267.52,178.6 265.55,177.8 267.52,177" fill="#14b4e6" stroke="#1d4c66" stroke-width="0.55"/>
<polygon points="268,182.94 268.88,184.7 270.85,185.5 268.88,186.3 268,188.06 267.12,186.3 265.15,185.5 267.12,184.7" fill="#14b4e6" stroke="#1d4c66" stroke-width="0.55"/>
<polygon points="270.7,185.24 271.58,187 273.55,187.8 271.58,188.6 270.7,190.37 269.82,188.6 267.85,187.8 269.82,187" fill="#14b4e6" stroke="#1d4c66" stroke-width="0.55"/>
<polygon points="268.5,205.63 269.38,207.4 271.35,208.2 269.38,209 268.5,210.76 267.62,209 265.65,208.2 267.62,207.4" fill="#14b4e6" stroke="#1d4c66" stroke-width="0.55"/>
<polygon points="269.5,208.63 270.38,210.4 272.35,211.2 270.38,212 269.5,213.76 268.62,212 266.65,211.2 268.62,210.4" fill="#14b4e6" stroke="#1d4c66" stroke-width="0.55"/>
<polygon points="267.7,217.63 268.58,219.4 270.55,220.2 268.58,221 267.7,222.76 266.82,221 264.85,220.2 266.82,219.4" fill="#14b4e6" stroke="#1d4c66" stroke-width="0.55"/>
<line x1="379.7" y1="180.9" x2="506.2" y2="180.9" stroke="#505050" stroke-width="1"/>
<line x1="444.5" y1="132.9" x2="444.5" y2="229.2" stroke="#505050" stroke-width="1"/>
<ellipse cx="443.95" cy="180.75" rx="54.65" ry="43.55" fill="none" stroke="#404040" stroke-width="0.75"/>
<line x1="379.7" y1="229.2" x2="504.4" y2="229.2" stroke="#505050" stroke-width="1"/>
<line x1="379.7" y1="229.2" x2="379.7" y2="136.3" stroke="#505050" stroke-width="1"/>
<polygon points="507.4,229.2 502.9,227.8 502.9,230.6" fill="#111"/>
<polygon points="379.7,133.3 378.3,137.8 381.1,137.8" fill="#111"/>
<text x="379.7" y="236.2" font-size="5.3" font-family='"Liberation Serif", serif' font-weight="bold" fill="#1a1a1a" text-anchor="middle" >-50</text>
<text x="392.66" y="236.2" font-size="5.3" font-family='"Liberation Serif", serif' font-weight="bold" fill="#1a1a1a" text-anchor="middle" >-40</text>
<text x="405.62" y="236.2" font-size="5.3" font-family='"Liberation Serif", serif' font-weight="bold" fill="#1a1a1a" text-anchor="middle" >-30</text>
<text x="418.58" y="236.2" font-size="5.3" font-family='"Liberation Serif", serif' font-weight="bold" fill="#1a1a1a" text-anchor="middle" >-20</text>
<text x="431.54" y="236.2" font-size="5.3" font-family='"Liberation Serif", serif' font-weight="bold" fill="#1a1a1a" text-anchor="middle" >-10</text>
<text x="444.5" y="236.2" font-size="5.3" font-family='"Liberation Serif", serif' font-weight="bold" fill="#1a1a1a" text-anchor="middle" >0</text>
<text x="457.46" y="236.2" font-size="5.3" font-family='"Liberation Serif", serif' font-weight="bold" fill="#1a1a1a" text-anchor="middle" >10</text>
<text x="470.42" y="236.2" font-size="5.3" font-family='"Liberation Serif", serif' font-weight="bold" fill="#1a1a1a" text-anchor="middle" >20</text>
<text x="483.38" y="236.2" font-size="5.3" font-family='"Liberation Serif", serif' font-weight="bold" fill="#1a1a1a" text-anchor="middle" >30</text>
<text x="496.34" y="236.2" font-size="5.3" font-family='"Liberation Serif", serif' font-weight="bold" fill="#1a1a1a" text-anchor="middle" >40</text>
<line x1="379.7" y1="229" x2="379.7" y2="230.3" stroke="#1a1a1a" stroke-width="0.9"/>
<line x1="386.18" y1="229" x2="386.18" y2="230.3" stroke="#1a1a1a" stroke-width="0.9"/>
<line x1="392.66" y1="229" x2="392.66" y2="230.3" stroke="#1a1a1a" stroke-width="0.9"/>
<line x1="399.14" y1="229" x2="399.14" y2="230.3" stroke="#1a1a1a" stroke-width="0.9"/>
<line x1="405.62" y1="229" x2="405.62" y2="230.3" stroke="#1a1a1a" stroke-width="0.9"/>
<line x1="412.1" y1="229" x2="412.1" y2="230.3" stroke="#1a1a1a" stroke-width="0.9"/>
<line x1="418.58" y1="229" x2="418.58" y2="230.3" stroke="#1a1a1a" stroke-width="0.9"/>
<line x1="425.06" y1="229" x2="425.06" y2="230.3" stroke="#1a1a1a" stroke-width="0.9"/>
<line x1="431.54" y1="229" x2="431.54" y2="230.3" stroke="#1a1a1a" stroke-width="0.9"/>
<line x1="438.02" y1="229" x2="438.02" y2="230.3" stroke="#1a1a1a" stroke-width="0.9"/>
<line x1="444.5" y1="229" x2="444.5" y2="230.3" stroke="#1a1a1a" stroke-width="0.9"/>
<line x1="450.98" y1="229" x2="450.98" y2="230.3" stroke="#1a1a1a" stroke-width="0.9"/>
<line x1="457.46" y1="229" x2="457.46" y2="230.3" stroke="#1a1a1a" stroke-width="0.9"/>
<line x1="463.94" y1="229" x2="463.94" y2="230.3" stroke="#1a1a1a" stroke-width="0.9"/>
<line x1="470.42" y1="229" x2="470.42" y2="230.3" stroke="#1a1a1a" stroke-width="0.9"/>
<line x1="476.9" y1="229" x2="476.9" y2="230.3" stroke="#1a1a1a" stroke-width="0.9"/>
<line x1="483.38" y1="229" x2="483.38" y2="230.3" stroke="#1a1a1a" stroke-width="0.9"/>
<line x1="489.86" y1="229" x2="489.86" y2="230.3" stroke="#1a1a1a" stroke-width="0.9"/>
<line x1="496.34" y1="229" x2="496.34" y2="230.3" stroke="#1a1a1a" stroke-width="0.9"/>
<text x="377.5" y="231.3" font-size="5.3" font-family='"Liberation Serif", serif' font-weight="bold" fill="#1a1a1a" text-anchor="end" >-50</text>
<text x="377.5" y="221.58" font-size="5.3" font-family='"Liberation Serif", serif' font-weight="bold" fill="#1a1a1a" text-anchor="end" >-40</text>
<text x="377.5" y="211.86" font-size="5.3" font-family='"Liberation Serif", serif' font-weight="bold" fill="#1a1a1a" text-anchor="end" >-30</text>
<text x="377.5" y="202.14" font-size="5.3" font-family='"Liberation Serif", serif' font-weight="bold" fill="#1a1a1a" text-anchor="end" >-20</text>
<text x="377.5" y="192.42" font-size="5.3" font-family='"Liberation Serif", serif' font-weight="bold" fill="#1a1a1a" text-anchor="end" >-10</text>
<text x="377.5" y="182.7" font-size="5.3" font-family='"Liberation Serif", serif' font-weight="bold" fill="#1a1a1a" text-anchor="end" >0</text>
<text x="377.5" y="172.98" font-size="5.3" font-family='"Liberation Serif", serif' font-weight="bold" fill="#1a1a1a" text-anchor="end" >10</text>
<text x="377.5" y="163.26" font-size="5.3" font-family='"Liberation Serif", serif' font-weight="bold" fill="#1a1a1a" text-anchor="end" >20</text>
<text x="377.5" y="153.54" font-size="5.3" font-family='"Liberation Serif", serif' font-weight="bold" fill="#1a1a1a" text-anchor="end" >30</text>
<text x="377.5" y="143.82" font-size="5.3" font-family='"Liberation Serif", serif' font-weight="bold" fill="#1a1a1a" text-anchor="end" >40</text>
<line x1="378.6" y1="229.5" x2="379.9" y2="229.5" stroke="#1a1a1a" stroke-width="0.9"/>
<line x1="378.6" y1="224.64" x2="379.9" y2="224.64" stroke="#1a1a1a" stroke-width="0.9"/>
<line x1="378.6" y1="219.78" x2="379.9" y2="219.78" stroke="#1a1a1a" stroke-width="0.9"/>
<line x1="378.6" y1="214.92" x2="379.9" y2="214.92" stroke="#1a1a1a" stroke-width="0.9"/>
<line x1="378.6" y1="210.06" x2="379.9" y2="210.06" stroke="#1a1a1a" stroke-width="0.9"/>
<line x1="378.6" y1="205.2" x2="379.9" y2="205.2" stroke="#1a1a1a" stroke-width="0.9"/>
<line x1="378.6" y1="200.34" x2="379.9" y2="200.34" stroke="#1a1a1a" stroke-width="0.9"/>
<line x1="378.6" y1="195.48" x2="379.9" y2="195.48" stroke="#1a1a1a" stroke-width="0.9"/>
<line x1="378.6" y1="190.62" x2="379.9" y2="190.62" stroke="#1a1a1a" stroke-width="0.9"/>
<line x1="378.6" y1="185.76" x2="379.9" y2="185.76" stroke="#1a1a1a" stroke-width="0.9"/>
<line x1="378.6" y1="180.9" x2="379.9" y2="180.9" stroke="#1a1a1a" stroke-width="0.9"/>
<line x1="378.6" y1="176.04" x2="379.9" y2="176.04" stroke="#1a1a1a" stroke-width="0.9"/>
<line x1="378.6" y1="171.18" x2="379.9" y2="171.18" stroke="#1a1a1a" stroke-width="0.9"/>
<line x1="378.6" y1="166.32" x2="379.9" y2="166.32" stroke="#1a1a1a" stroke-width="0.9"/>
<line x1="378.6" y1="161.46" x2="379.9" y2="161.46" stroke="#1a1a1a" stroke-width="0.9"/>
<line x1="378.6" y1="156.6" x2="379.9" y2="156.6" stroke="#1a1a1a" stroke-width="0.9"/>
<line x1="378.6" y1="151.74" x2="379.9" y2="151.74" stroke="#1a1a1a" stroke-width="0.9"/>
<line x1="378.6" y1="146.88" x2="379.9" y2="146.88" stroke="#1a1a1a" stroke-width="0.9"/>
<line x1="378.6" y1="142.02" x2="379.9" y2="142.02" stroke="#1a1a1a" stroke-width="0.9"/>
<text x="428.3" y="242.9" font-size="5.6" font-family='"Liberation Serif", serif' font-weight="bold" fill="#000" text-anchor="start" textLength="32" lengthAdjust="spacingAndGlyphs" >1.00112 * t[1]</text>
<text x="0" y="0" font-size="5.6" font-family='"Liberation Serif", serif' font-weight="bold" text-anchor="middle" textLength="36.3" lengthAdjust="spacingAndGlyphs" transform="translate(368 180.45) rotate(-90)">1.22961 * to[1]</text>
<text x="368.3" y="249" font-size="4.5" font-family='"Liberation Serif", serif' font-weight="bold" fill="#222" text-anchor="start" textLength="24.5" lengthAdjust="spacingAndGlyphs" >R2X[1] = 0.148</text>
<text x="407.1" y="249" font-size="4.5" font-family='"Liberation Serif", serif' font-weight="bold" fill="#222" text-anchor="start" textLength="44.4" lengthAdjust="spacingAndGlyphs" >R2X[2](Side Comp. 1) = 0.17</text>
<text x="454.6" y="249" font-size="4.5" font-family='"Liberation Serif", serif' font-weight="bold" fill="#222" text-anchor="start" textLength="48.8" lengthAdjust="spacingAndGlyphs" >Ellipse: Hotelling's T2 (95%)</text>
<polygon points="424.3,148.1 427,150.8 424.3,153.5 421.6,150.8" fill="#00f000" stroke="#2a8a2a" stroke-width="0.4"/>
<polygon points="425.2,152.1 427.9,154.8 425.2,157.5 422.5,154.8" fill="#00f000" stroke="#2a8a2a" stroke-width="0.4"/>
<polygon points="421.4,165.1 424.1,167.8 421.4,170.5 418.7,167.8" fill="#00f000" stroke="#2a8a2a" stroke-width="0.4"/>
<polygon points="428.4,163.4 431.1,166.1 428.4,168.8 425.7,166.1" fill="#00f000" stroke="#2a8a2a" stroke-width="0.4"/>
<polygon points="424.7,169.2 427.4,171.9 424.7,174.6 422,171.9" fill="#00f000" stroke="#2a8a2a" stroke-width="0.4"/>
<polygon points="421.2,170.1 423.9,172.8 421.2,175.5 418.5,172.8" fill="#00f000" stroke="#2a8a2a" stroke-width="0.4"/>
<polygon points="425.8,173.9 428.5,176.6 425.8,179.3 423.1,176.6" fill="#00f000" stroke="#2a8a2a" stroke-width="0.4"/>
<polygon points="424.3,179.9 427,182.6 424.3,185.3 421.6,182.6" fill="#00f000" stroke="#2a8a2a" stroke-width="0.4"/>
<polygon points="422.3,182.1 425,184.8 422.3,187.5 419.6,184.8" fill="#00f000" stroke="#2a8a2a" stroke-width="0.4"/>
<polygon points="426.1,188 428.8,190.7 426.1,193.4 423.4,190.7" fill="#00f000" stroke="#2a8a2a" stroke-width="0.4"/>
<polygon points="420.2,192.5 422.9,195.2 420.2,197.9 417.5,195.2" fill="#00f000" stroke="#2a8a2a" stroke-width="0.4"/>
<polygon points="424.9,191.3 427.6,194 424.9,196.7 422.2,194" fill="#00f000" stroke="#2a8a2a" stroke-width="0.4"/>
<polygon points="426.3,195.4 429,198.1 426.3,200.8 423.6,198.1" fill="#00f000" stroke="#2a8a2a" stroke-width="0.4"/>
<polygon points="429,206.8 431.7,209.5 429,212.2 426.3,209.5" fill="#00f000" stroke="#2a8a2a" stroke-width="0.4"/>
<circle cx="468.1" cy="158.5" r="2.5" fill="#8b008b" stroke="#5a005a" stroke-width="0.5"/>
<circle cx="467.7" cy="162.4" r="2.5" fill="#8b008b" stroke="#5a005a" stroke-width="0.5"/>
<circle cx="462.2" cy="168" r="2.5" fill="#8b008b" stroke="#5a005a" stroke-width="0.5"/>
<circle cx="466.6" cy="168.1" r="2.5" fill="#8b008b" stroke="#5a005a" stroke-width="0.5"/>
<circle cx="463" cy="175.5" r="2.5" fill="#8b008b" stroke="#5a005a" stroke-width="0.5"/>
<circle cx="464.8" cy="176.7" r="2.5" fill="#8b008b" stroke="#5a005a" stroke-width="0.5"/>
<circle cx="459.8" cy="179.2" r="2.5" fill="#8b008b" stroke="#5a005a" stroke-width="0.5"/>
<circle cx="463.6" cy="179" r="2.5" fill="#8b008b" stroke="#5a005a" stroke-width="0.5"/>
<circle cx="466" cy="180.2" r="2.5" fill="#8b008b" stroke="#5a005a" stroke-width="0.5"/>
<circle cx="469.1" cy="180" r="2.5" fill="#8b008b" stroke="#5a005a" stroke-width="0.5"/>
<circle cx="464.8" cy="185.8" r="2.5" fill="#8b008b" stroke="#5a005a" stroke-width="0.5"/>
<circle cx="466" cy="190.5" r="2.5" fill="#8b008b" stroke="#5a005a" stroke-width="0.5"/>
<circle cx="466.3" cy="205.4" r="2.5" fill="#8b008b" stroke="#5a005a" stroke-width="0.5"/>
<circle cx="463" cy="221.5" r="2.5" fill="#8b008b" stroke="#5a005a" stroke-width="0.5"/>
<line x1="525.5" y1="180.9" x2="654.8" y2="180.9" stroke="#505050" stroke-width="1"/>
<line x1="590.3" y1="132.9" x2="590.3" y2="229.3" stroke="#505050" stroke-width="1"/>
<ellipse cx="590.3" cy="180.6" rx="56" ry="38.6" fill="none" stroke="#404040" stroke-width="0.75"/>
<line x1="525.5" y1="229.3" x2="651.5" y2="229.3" stroke="#505050" stroke-width="1"/>
<line x1="525.5" y1="229.3" x2="525.5" y2="136.3" stroke="#505050" stroke-width="1"/>
<polygon points="654.5,229.3 650,227.9 650,230.7" fill="#111"/>
<polygon points="525.5,133.3 524.1,137.8 526.9,137.8" fill="#111"/>
<text x="525.5" y="236.3" font-size="5.3" font-family='"Liberation Serif", serif' font-weight="bold" fill="#1a1a1a" text-anchor="middle" >-40</text>
<text x="541.7" y="236.3" font-size="5.3" font-family='"Liberation Serif", serif' font-weight="bold" fill="#1a1a1a" text-anchor="middle" >-30</text>
<text x="557.9" y="236.3" font-size="5.3" font-family='"Liberation Serif", serif' font-weight="bold" fill="#1a1a1a" text-anchor="middle" >-20</text>
<text x="574.1" y="236.3" font-size="5.3" font-family='"Liberation Serif", serif' font-weight="bold" fill="#1a1a1a" text-anchor="middle" >-10</text>
<text x="590.3" y="236.3" font-size="5.3" font-family='"Liberation Serif", serif' font-weight="bold" fill="#1a1a1a" text-anchor="middle" >0</text>
<text x="606.5" y="236.3" font-size="5.3" font-family='"Liberation Serif", serif' font-weight="bold" fill="#1a1a1a" text-anchor="middle" >10</text>
<text x="622.7" y="236.3" font-size="5.3" font-family='"Liberation Serif", serif' font-weight="bold" fill="#1a1a1a" text-anchor="middle" >20</text>
<text x="638.9" y="236.3" font-size="5.3" font-family='"Liberation Serif", serif' font-weight="bold" fill="#1a1a1a" text-anchor="middle" >30</text>
<line x1="525.5" y1="229.1" x2="525.5" y2="230.4" stroke="#1a1a1a" stroke-width="0.9"/>
<line x1="533.6" y1="229.1" x2="533.6" y2="230.4" stroke="#1a1a1a" stroke-width="0.9"/>
<line x1="541.7" y1="229.1" x2="541.7" y2="230.4" stroke="#1a1a1a" stroke-width="0.9"/>
<line x1="549.8" y1="229.1" x2="549.8" y2="230.4" stroke="#1a1a1a" stroke-width="0.9"/>
<line x1="557.9" y1="229.1" x2="557.9" y2="230.4" stroke="#1a1a1a" stroke-width="0.9"/>
<line x1="566" y1="229.1" x2="566" y2="230.4" stroke="#1a1a1a" stroke-width="0.9"/>
<line x1="574.1" y1="229.1" x2="574.1" y2="230.4" stroke="#1a1a1a" stroke-width="0.9"/>
<line x1="582.2" y1="229.1" x2="582.2" y2="230.4" stroke="#1a1a1a" stroke-width="0.9"/>
<line x1="590.3" y1="229.1" x2="590.3" y2="230.4" stroke="#1a1a1a" stroke-width="0.9"/>
<line x1="598.4" y1="229.1" x2="598.4" y2="230.4" stroke="#1a1a1a" stroke-width="0.9"/>
<line x1="606.5" y1="229.1" x2="606.5" y2="230.4" stroke="#1a1a1a" stroke-width="0.9"/>
<line x1="614.6" y1="229.1" x2="614.6" y2="230.4" stroke="#1a1a1a" stroke-width="0.9"/>
<line x1="622.7" y1="229.1" x2="622.7" y2="230.4" stroke="#1a1a1a" stroke-width="0.9"/>
<line x1="630.8" y1="229.1" x2="630.8" y2="230.4" stroke="#1a1a1a" stroke-width="0.9"/>
<line x1="638.9" y1="229.1" x2="638.9" y2="230.4" stroke="#1a1a1a" stroke-width="0.9"/>
<line x1="647" y1="229.1" x2="647" y2="230.4" stroke="#1a1a1a" stroke-width="0.9"/>
<text x="523.3" y="231.42" font-size="5.3" font-family='"Liberation Serif", serif' font-weight="bold" fill="#1a1a1a" text-anchor="end" >-80</text>
<text x="523.3" y="219.24" font-size="5.3" font-family='"Liberation Serif", serif' font-weight="bold" fill="#1a1a1a" text-anchor="end" >-60</text>
<text x="523.3" y="207.06" font-size="5.3" font-family='"Liberation Serif", serif' font-weight="bold" fill="#1a1a1a" text-anchor="end" >-40</text>
<text x="523.3" y="194.88" font-size="5.3" font-family='"Liberation Serif", serif' font-weight="bold" fill="#1a1a1a" text-anchor="end" >-20</text>
<text x="523.3" y="182.7" font-size="5.3" font-family='"Liberation Serif", serif' font-weight="bold" fill="#1a1a1a" text-anchor="end" >0</text>
<text x="523.3" y="170.52" font-size="5.3" font-family='"Liberation Serif", serif' font-weight="bold" fill="#1a1a1a" text-anchor="end" >20</text>
<text x="523.3" y="158.34" font-size="5.3" font-family='"Liberation Serif", serif' font-weight="bold" fill="#1a1a1a" text-anchor="end" >40</text>
<text x="523.3" y="146.16" font-size="5.3" font-family='"Liberation Serif", serif' font-weight="bold" fill="#1a1a1a" text-anchor="end" >60</text>
<line x1="524.4" y1="229.62" x2="525.7" y2="229.62" stroke="#1a1a1a" stroke-width="0.9"/>
<line x1="524.4" y1="226.57" x2="525.7" y2="226.57" stroke="#1a1a1a" stroke-width="0.9"/>
<line x1="524.4" y1="223.53" x2="525.7" y2="223.53" stroke="#1a1a1a" stroke-width="0.9"/>
<line x1="524.4" y1="220.49" x2="525.7" y2="220.49" stroke="#1a1a1a" stroke-width="0.9"/>
<line x1="524.4" y1="217.44" x2="525.7" y2="217.44" stroke="#1a1a1a" stroke-width="0.9"/>
<line x1="524.4" y1="214.4" x2="525.7" y2="214.4" stroke="#1a1a1a" stroke-width="0.9"/>
<line x1="524.4" y1="211.35" x2="525.7" y2="211.35" stroke="#1a1a1a" stroke-width="0.9"/>
<line x1="524.4" y1="208.31" x2="525.7" y2="208.31" stroke="#1a1a1a" stroke-width="0.9"/>
<line x1="524.4" y1="205.26" x2="525.7" y2="205.26" stroke="#1a1a1a" stroke-width="0.9"/>
<line x1="524.4" y1="202.22" x2="525.7" y2="202.22" stroke="#1a1a1a" stroke-width="0.9"/>
<line x1="524.4" y1="199.17" x2="525.7" y2="199.17" stroke="#1a1a1a" stroke-width="0.9"/>
<line x1="524.4" y1="196.12" x2="525.7" y2="196.12" stroke="#1a1a1a" stroke-width="0.9"/>
<line x1="524.4" y1="193.08" x2="525.7" y2="193.08" stroke="#1a1a1a" stroke-width="0.9"/>
<line x1="524.4" y1="190.03" x2="525.7" y2="190.03" stroke="#1a1a1a" stroke-width="0.9"/>
<line x1="524.4" y1="186.99" x2="525.7" y2="186.99" stroke="#1a1a1a" stroke-width="0.9"/>
<line x1="524.4" y1="183.94" x2="525.7" y2="183.94" stroke="#1a1a1a" stroke-width="0.9"/>
<line x1="524.4" y1="180.9" x2="525.7" y2="180.9" stroke="#1a1a1a" stroke-width="0.9"/>
<line x1="524.4" y1="177.86" x2="525.7" y2="177.86" stroke="#1a1a1a" stroke-width="0.9"/>
<line x1="524.4" y1="174.81" x2="525.7" y2="174.81" stroke="#1a1a1a" stroke-width="0.9"/>
<line x1="524.4" y1="171.77" x2="525.7" y2="171.77" stroke="#1a1a1a" stroke-width="0.9"/>
<line x1="524.4" y1="168.72" x2="525.7" y2="168.72" stroke="#1a1a1a" stroke-width="0.9"/>
<line x1="524.4" y1="165.68" x2="525.7" y2="165.68" stroke="#1a1a1a" stroke-width="0.9"/>
<line x1="524.4" y1="162.63" x2="525.7" y2="162.63" stroke="#1a1a1a" stroke-width="0.9"/>
<line x1="524.4" y1="159.59" x2="525.7" y2="159.59" stroke="#1a1a1a" stroke-width="0.9"/>
<line x1="524.4" y1="156.54" x2="525.7" y2="156.54" stroke="#1a1a1a" stroke-width="0.9"/>
<line x1="524.4" y1="153.5" x2="525.7" y2="153.5" stroke="#1a1a1a" stroke-width="0.9"/>
<line x1="524.4" y1="150.45" x2="525.7" y2="150.45" stroke="#1a1a1a" stroke-width="0.9"/>
<line x1="524.4" y1="147.41" x2="525.7" y2="147.41" stroke="#1a1a1a" stroke-width="0.9"/>
<line x1="524.4" y1="144.36" x2="525.7" y2="144.36" stroke="#1a1a1a" stroke-width="0.9"/>
<line x1="524.4" y1="141.31" x2="525.7" y2="141.31" stroke="#1a1a1a" stroke-width="0.9"/>
<text x="574.6" y="242.9" font-size="5.6" font-family='"Liberation Serif", serif' font-weight="bold" fill="#000" text-anchor="start" textLength="31.7" lengthAdjust="spacingAndGlyphs" >1.00289 * t[1]</text>
<text x="0" y="0" font-size="5.6" font-family='"Liberation Serif", serif' font-weight="bold" text-anchor="middle" textLength="36.3" lengthAdjust="spacingAndGlyphs" transform="translate(513.3 180.45) rotate(-90)">1.05763 * to[1]</text>
<text x="514.4" y="249" font-size="4.5" font-family='"Liberation Serif", serif' font-weight="bold" fill="#222" text-anchor="start" textLength="25.2" lengthAdjust="spacingAndGlyphs" >R2X[1] = 0.0884</text>
<text x="553.4" y="249" font-size="4.5" font-family='"Liberation Serif", serif' font-weight="bold" fill="#222" text-anchor="start" textLength="45.9" lengthAdjust="spacingAndGlyphs" >R2X[2](Side Comp. 1) = 0.306</text>
<text x="603.1" y="249" font-size="4.5" font-family='"Liberation Serif", serif' font-weight="bold" fill="#222" text-anchor="start" textLength="47" lengthAdjust="spacingAndGlyphs" >Ellipse: Hotelling's T2 (95%)</text>
<polygon points="572,154.8 574.7,157.5 572,160.2 569.3,157.5" fill="#00f000" stroke="#2a8a2a" stroke-width="0.4"/>
<polygon points="572.2,157.7 574.9,160.4 572.2,163.1 569.5,160.4" fill="#00f000" stroke="#2a8a2a" stroke-width="0.4"/>
<polygon points="565.5,161.1 568.2,163.8 565.5,166.5 562.8,163.8" fill="#00f000" stroke="#2a8a2a" stroke-width="0.4"/>
<polygon points="575.5,163.4 578.2,166.1 575.5,168.8 572.8,166.1" fill="#00f000" stroke="#2a8a2a" stroke-width="0.4"/>
<polygon points="567.3,169.8 570,172.5 567.3,175.2 564.6,172.5" fill="#00f000" stroke="#2a8a2a" stroke-width="0.4"/>
<polygon points="568.1,174.3 570.8,177 568.1,179.7 565.4,177" fill="#00f000" stroke="#2a8a2a" stroke-width="0.4"/>
<polygon points="574,174.5 576.7,177.2 574,179.9 571.3,177.2" fill="#00f000" stroke="#2a8a2a" stroke-width="0.4"/>
<polygon points="567.7,179.5 570.4,182.2 567.7,184.9 565,182.2" fill="#00f000" stroke="#2a8a2a" stroke-width="0.4"/>
<polygon points="572.2,181.2 574.9,183.9 572.2,186.6 569.5,183.9" fill="#00f000" stroke="#2a8a2a" stroke-width="0.4"/>
<polygon points="567.3,183.4 570,186.1 567.3,188.8 564.6,186.1" fill="#00f000" stroke="#2a8a2a" stroke-width="0.4"/>
<polygon points="570.8,184.5 573.5,187.2 570.8,189.9 568.1,187.2" fill="#00f000" stroke="#2a8a2a" stroke-width="0.4"/>
<polygon points="568.5,199 571.2,201.7 568.5,204.4 565.8,201.7" fill="#00f000" stroke="#2a8a2a" stroke-width="0.4"/>
<polygon points="567.3,200.8 570,203.5 567.3,206.2 564.6,203.5" fill="#00f000" stroke="#2a8a2a" stroke-width="0.4"/>
<polygon points="575.5,212.6 578.2,215.3 575.5,218 572.8,215.3" fill="#00f000" stroke="#2a8a2a" stroke-width="0.4"/>
<circle cx="613" cy="160.9" r="2.5" fill="#8b008b" stroke="#5a005a" stroke-width="0.5"/>
<circle cx="608.6" cy="167.6" r="2.5" fill="#8b008b" stroke="#5a005a" stroke-width="0.5"/>
<circle cx="608.9" cy="171.9" r="2.5" fill="#8b008b" stroke="#5a005a" stroke-width="0.5"/>
<circle cx="613.6" cy="175.8" r="2.5" fill="#8b008b" stroke="#5a005a" stroke-width="0.5"/>
<circle cx="606.6" cy="180.8" r="2.5" fill="#8b008b" stroke="#5a005a" stroke-width="0.5"/>
<circle cx="612.4" cy="180.6" r="2.5" fill="#8b008b" stroke="#5a005a" stroke-width="0.5"/>
<circle cx="614.5" cy="182" r="2.5" fill="#8b008b" stroke="#5a005a" stroke-width="0.5"/>
<circle cx="611.1" cy="184.9" r="2.5" fill="#8b008b" stroke="#5a005a" stroke-width="0.5"/>
<circle cx="615.7" cy="185.4" r="2.5" fill="#8b008b" stroke="#5a005a" stroke-width="0.5"/>
<circle cx="616.5" cy="188.4" r="2.5" fill="#8b008b" stroke="#5a005a" stroke-width="0.5"/>
<circle cx="608.4" cy="218.4" r="2.5" fill="#8b008b" stroke="#5a005a" stroke-width="0.5"/>
<circle cx="319.7" cy="4.65" r="2.6" fill="#808000" stroke="#4d4d00" stroke-width="0.5"/>
<polygon points="319.9,8.1 320.55,9.56 322.13,9.72 320.95,10.79 321.28,12.35 319.9,11.55 318.52,12.35 318.85,10.79 317.67,9.72 319.25,9.56" fill="#0000ff" stroke="#00007a" stroke-width="0.4"/>
<text x="324" y="6.7" font-size="5.6" font-family='"Liberation Serif", serif' font-weight="bold" fill="#111" text-anchor="start" textLength="22.6" lengthAdjust="spacingAndGlyphs" stroke="#111" stroke-width="0.18">TPN-POD0</text>
<text x="324" y="12.05" font-size="5.6" font-family='"Liberation Serif", serif' font-weight="bold" fill="#111" text-anchor="start" textLength="22.6" lengthAdjust="spacingAndGlyphs" stroke="#111" stroke-width="0.18">TPN-POD4</text>
<circle cx="656.75" cy="5.2" r="2.35" fill="#808000" stroke="#4d4d00" stroke-width="0.5"/>
<polygon points="656.95,9.05 659.1,12.75 654.8,12.75" fill="#ff0000" stroke="#a00000" stroke-width="0.4"/>
<text x="660.8" y="6.75" font-size="5.6" font-family='"Liberation Serif", serif' font-weight="bold" fill="#111" text-anchor="start" textLength="22.7" lengthAdjust="spacingAndGlyphs" stroke="#111" stroke-width="0.18">TPN-POD0</text>
<text x="660.8" y="12.6" font-size="5.6" font-family='"Liberation Serif", serif' font-weight="bold" fill="#111" text-anchor="start" textLength="22.7" lengthAdjust="spacingAndGlyphs" stroke="#111" stroke-width="0.18">TPN-POD7</text>
<polygon points="318.7,133 321.2,135.5 318.7,138 316.2,135.5" fill="#00f000" stroke="#2a8a2a" stroke-width="0.4"/>
<polygon points="318.7,138.86 319.48,140.5 321.3,141.2 319.48,141.9 318.7,143.54 317.92,141.9 316.1,141.2 317.92,140.5" fill="#14b4e6" stroke="#1d4c66" stroke-width="0.55"/>
<text x="322.2" y="137.2" font-size="5.4" font-family='"Liberation Serif", serif' font-weight="normal" fill="#333" text-anchor="start" textLength="22.9" lengthAdjust="spacingAndGlyphs" stroke="#333" stroke-width="0.1">GIK-POD1</text>
<text x="322.2" y="142.9" font-size="5.4" font-family='"Liberation Serif", serif' font-weight="normal" fill="#333" text-anchor="start" textLength="22.9" lengthAdjust="spacingAndGlyphs" stroke="#333" stroke-width="0.1">GIK-POD4</text>
<polygon points="658,133 660.5,135.5 658,138 655.5,135.5" fill="#00f000" stroke="#2a8a2a" stroke-width="0.4"/>
<circle cx="658" cy="141.3" r="2.35" fill="#8b008b" stroke="#5a005a" stroke-width="0.5"/>
<text x="661.5" y="137.2" font-size="5.4" font-family='"Liberation Serif", serif' font-weight="normal" fill="#333" text-anchor="start" textLength="23" lengthAdjust="spacingAndGlyphs" stroke="#333" stroke-width="0.1">GIK-POD1</text>
<text x="661.5" y="143" font-size="5.4" font-family='"Liberation Serif", serif' font-weight="normal" fill="#333" text-anchor="start" textLength="23" lengthAdjust="spacingAndGlyphs" stroke="#333" stroke-width="0.1">GIK-POD7</text>
<text x="0" y="11.8" font-size="16.6" font-family='"Liberation Sans", sans-serif' font-weight="bold" fill="#000" text-anchor="start" >A</text>
<text x="352" y="11.9" font-size="16.6" font-family='"Liberation Sans", sans-serif' font-weight="bold" fill="#000" text-anchor="start" >B</text>
<text x="-0.5" y="141.7" font-size="16.6" font-family='"Liberation Sans", sans-serif' font-weight="bold" fill="#000" text-anchor="start" >C</text>
<text x="351.2" y="142.1" font-size="16.6" font-family='"Liberation Sans", sans-serif' font-weight="bold" fill="#000" text-anchor="start" >D</text>
<text x="85.6" y="266" font-size="9.8" font-family='"Liberation Sans", sans-serif' font-weight="bold" fill="#000" text-anchor="start" textLength="35.6" lengthAdjust="spacingAndGlyphs" >Positive</text>
<text x="230.9" y="266" font-size="9.8" font-family='"Liberation Sans", sans-serif' font-weight="bold" fill="#000" text-anchor="start" textLength="40.4" lengthAdjust="spacingAndGlyphs" >Negative</text>
<text x="428.3" y="265.1" font-size="9.8" font-family='"Liberation Sans", sans-serif' font-weight="bold" fill="#000" text-anchor="start" textLength="35.8" lengthAdjust="spacingAndGlyphs" >Positive</text>
<text x="575.1" y="265.1" font-size="9.8" font-family='"Liberation Sans", sans-serif' font-weight="bold" fill="#000" text-anchor="start" textLength="40.4" lengthAdjust="spacingAndGlyphs" >Negative</text>
</svg>
</body></html>
